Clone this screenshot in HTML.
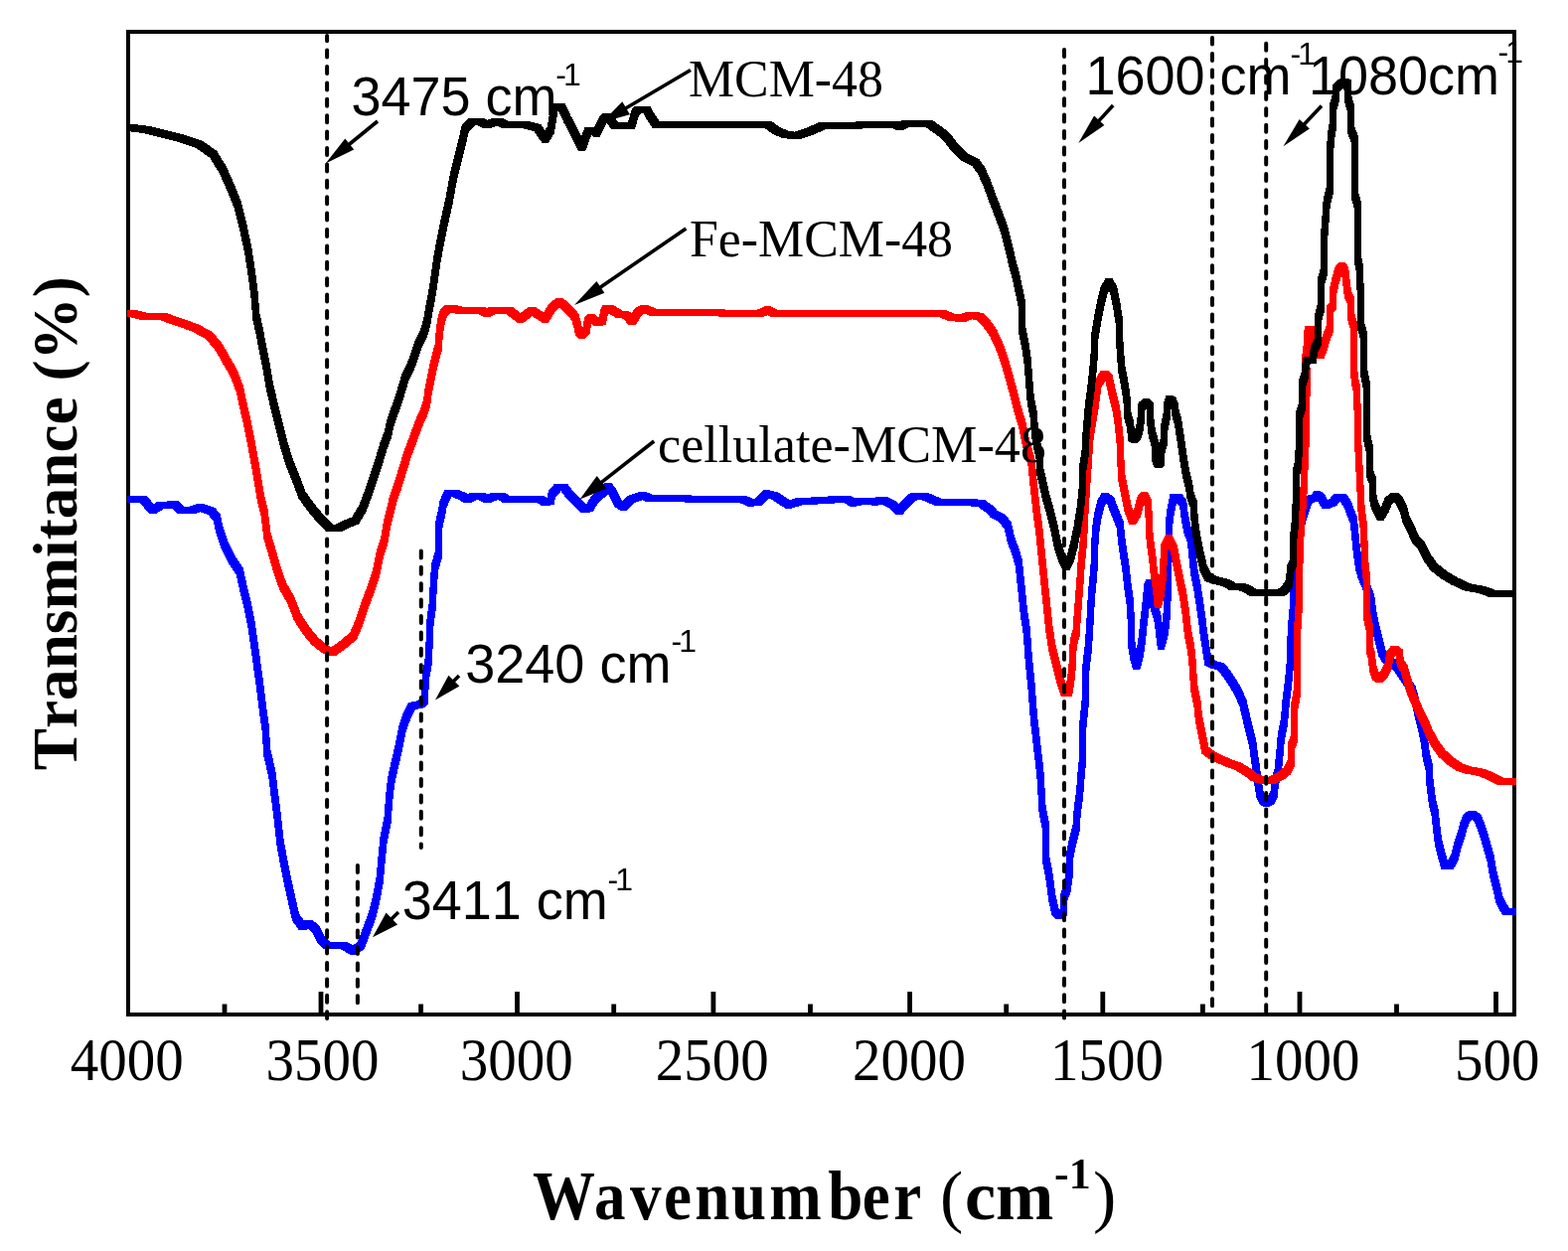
<!DOCTYPE html>
<html><head><meta charset="utf-8"><title>FTIR spectra</title>
<style>html,body{margin:0;padding:0;background:#fff;overflow:hidden;}svg{display:block;}text{font-kerning:none;font-feature-settings:'kern' 0;}</style>
</head><body>
<svg width="1578" height="1259" viewBox="0 0 1578 1259">
<rect x="0" y="0" width="1578" height="1259" fill="#fff"/>
<rect x="129" y="32" width="1395" height="989" fill="none" stroke="#000" stroke-width="4"/>
<path d="M128 498.5 147.5 498.5 147.5 505.5 128 505.5ZM140.5 498.5 147.5 498.5 157.1 510 157.1 517 150.1 517 140.5 505.5ZM150.1 510 157.7 505.2 164.7 505.2 164.7 512.2 157.1 517 150.1 517ZM157.7 505.2 173 504.2 180 504.2 180 511.2 164.7 512.2 157.7 512.2ZM173 504.2 180 504.2 185.7 510 185.7 517 178.7 517 173 511.2ZM178.7 510 197.1 510 197.1 517 178.7 517ZM190.1 510 197.7 507.1 204.7 507.1 204.7 514.1 197.1 517 190.1 517ZM197.7 507.1 204.7 507.1 216.2 510.9 216.2 517.9 209.2 517.9 197.7 514.1ZM209.2 510.9 216.2 510.9 221.9 517.5 221.9 524.5 214.9 524.5 209.2 517.9ZM214.9 517.5 221.9 517.5 223.8 527.9 223.8 534.9 216.8 534.9 214.9 524.5ZM216.8 527.9 223.8 527.9 229.5 545.1 229.5 552.1 222.5 552.1 216.8 534.9ZM222.5 545.1 229.5 545.1 237.1 560.3 237.1 567.3 230.1 567.3 222.5 552.1ZM230.1 560.3 237.1 560.3 244.8 571.8 244.8 578.8 237.8 578.8 230.1 567.3ZM237.8 571.8 244.8 571.8 248.5 588.9 248.5 595.9 241.5 595.9 237.8 578.8ZM241.5 588.9 248.5 588.9 252.4 604.2 252.4 611.2 245.4 611.2 241.5 595.9ZM245.4 604.2 252.4 604.2 256.2 623.2 256.2 630.2 249.2 630.2 245.4 611.2ZM249.2 623.2 256.2 623.2 259 642.3 259 649.3 252 649.3 249.2 630.2ZM252 642.3 259 642.3 261.9 663.2 261.9 670.2 254.9 670.2 252 649.3ZM254.9 663.2 261.9 663.2 264.8 684.2 264.8 691.2 257.8 691.2 254.9 670.2ZM257.8 684.2 264.8 684.2 267.6 707.1 267.6 714.1 260.6 714.1 257.8 691.2ZM260.6 707.1 267.6 707.1 270.5 728 270.5 735 263.5 735 260.6 714.1ZM263.5 728 270.5 728 272.4 754.7 272.4 761.7 265.4 761.7 263.5 735ZM265.4 754.7 272.4 754.7 277.2 774.5 277.2 781.5 270.2 781.5 265.4 761.7ZM270.2 774.5 277.2 774.5 280 797.5 280 804.5 273 804.5 270.2 781.5ZM273 797.5 280 797.5 282.9 820.4 282.9 827.4 275.9 827.4 273 804.5ZM275.9 820.4 282.9 820.4 285.7 845.1 285.7 852.1 278.7 852.1 275.9 827.4ZM278.7 845.1 285.7 845.1 289.5 866.1 289.5 873.1 282.5 873.1 278.7 852.1ZM282.5 866.1 289.5 866.1 293.4 885.2 293.4 892.2 286.4 892.2 282.5 873.1ZM286.4 885.2 293.4 885.2 297.2 902.3 297.2 909.3 290.2 909.3 286.4 892.2ZM290.2 902.3 297.2 902.3 301 919.5 301 926.5 294 926.5 290.2 909.3ZM294 919.5 301 919.5 307.7 929 307.7 936 300.7 936 294 926.5ZM300.7 929 307.3 926.1 314.3 926.1 314.3 933.1 307.7 936 300.7 936ZM307.3 926.1 314.3 926.1 321 930.9 321 937.9 314 937.9 307.3 933.1ZM314 930.9 321 930.9 326.7 942.3 326.7 949.3 319.7 949.3 314 937.9ZM319.7 942.3 326.7 942.3 332.5 948 332.5 955 325.5 955 319.7 949.3ZM325.5 948 349.5 948 349.5 955 325.5 955ZM342.5 948 349.5 948 359.1 953.8 359.1 960.8 352.1 960.8 342.5 955ZM352.1 953.8 359.7 948 366.7 948 366.7 955 359.1 960.8 352.1 960.8ZM359.7 948 365.5 932.8 372.5 932.8 372.5 939.8 366.7 955 359.7 955ZM365.5 932.8 371.2 917.5 378.2 917.5 378.2 924.5 372.5 939.8 365.5 939.8ZM371.2 917.5 375 902.3 382 902.3 382 909.3 378.2 924.5 371.2 924.5ZM375 902.3 378.8 881.3 385.8 881.3 385.8 888.3 382 909.3 375 909.3ZM378.8 881.3 380.7 860.4 387.7 860.4 387.7 867.4 385.8 888.3 378.8 888.3ZM380.7 860.4 382.6 841.3 389.6 841.3 389.6 848.3 387.7 867.4 380.7 867.4ZM382.6 841.3 386.5 822.3 393.5 822.3 393.5 829.3 389.6 848.3 382.6 848.3ZM386.5 822.3 388.3 799.4 395.3 799.4 395.3 806.4 393.5 829.3 386.5 829.3ZM388.3 799.4 390.2 782.2 397.2 782.2 397.2 789.2 395.3 806.4 388.3 806.4ZM390.2 782.2 394 765.1 401 765.1 401 772.1 397.2 789.2 390.2 789.2ZM394 765.1 397.9 748.5 404.9 748.5 404.9 755.5 401 772.1 394 772.1ZM397.9 748.5 401.5 730 408.5 730 408.5 737 404.9 755.5 397.9 755.5ZM401.5 730 405.5 718.5 412.5 718.5 412.5 725.5 408.5 737 401.5 737ZM405.5 718.5 411.2 707.1 418.2 707.1 418.2 714.1 412.5 725.5 405.5 725.5ZM411.2 707.1 420.7 705.2 427.7 705.2 427.7 712.2 418.2 714.1 411.2 714.1ZM420.7 705.2 423.9 701.7 430.9 701.7 430.9 708.7 427.7 712.2 420.7 712.2ZM423.9 701.7 424.9 677.3 431.9 677.3 431.9 684.3 430.9 708.7 423.9 708.7ZM424.9 677.3 427.9 661.1 434.9 661.1 434.9 668.1 431.9 684.3 424.9 684.3ZM427.9 661.1 428.9 636.5 435.9 636.5 435.9 643.5 434.9 668.1 427.9 668.1ZM428.9 636.5 429.5 622.6 436.5 622.6 436.5 629.6 435.9 643.5 428.9 643.5ZM429.5 622.6 432.1 603.6 439.1 603.6 439.1 610.6 436.5 629.6 429.5 629.6ZM432.1 603.6 432.7 584.5 439.7 584.5 439.7 591.5 439.1 610.6 432.1 610.6ZM432.7 584.5 434.6 565.5 441.6 565.5 441.6 572.5 439.7 591.5 432.7 591.5ZM434.6 565.5 437.8 555.3 444.8 555.3 444.8 562.3 441.6 572.5 434.6 572.5ZM437.8 527.3 444.8 527.3 444.8 562.3 437.8 562.3ZM437.8 527.3 441 512.5 448 512.5 448 519.5 444.8 534.3 437.8 534.3ZM441 512.5 442.5 503.9 449.5 503.9 449.5 510.9 448 519.5 441 519.5ZM442.5 503.9 447.1 493.5 454.1 493.5 454.1 500.5 449.5 510.9 442.5 510.9ZM447.1 493.5 454.8 493 461.8 493 461.8 500 454.1 500.5 447.1 500.5ZM454.8 493 461.8 493 469.4 496.3 469.4 503.3 462.4 503.3 454.8 500ZM462.4 496.3 469.4 496.3 473.9 499 473.9 506 466.9 506 462.4 503.3ZM466.9 499 473 496 480 496 480 503 473.9 506 466.9 506ZM473 496 487.6 496 487.6 503 473 503ZM480.6 496 487.6 496 493.7 499 493.7 506 486.7 506 480.6 503ZM486.7 499 494.3 496 501.3 496 501.3 503 493.7 506 486.7 506ZM494.3 496 508.9 496 508.9 503 494.3 503ZM501.9 496 508.9 496 511.9 498.5 511.9 505.5 504.9 505.5 501.9 503ZM504.9 498.5 546.9 498.5 546.9 505.5 504.9 505.5ZM539.9 498.5 546.9 498.5 551.5 502 551.5 509 544.5 509 539.9 505.5ZM544.5 502 550.5 500.8 557.5 500.8 557.5 507.8 551.5 509 544.5 509ZM550.5 500.8 552.1 493.5 559.1 493.5 559.1 500.5 557.5 507.8 550.5 507.8ZM552.1 493.5 558.2 486.7 565.2 486.7 565.2 493.7 559.1 500.5 552.1 500.5ZM558.2 486.7 565.2 486.7 571.3 487.1 571.3 494.1 564.3 494.1 558.2 493.7ZM564.3 487.1 571.3 487.1 575.8 493.2 575.8 500.2 568.8 500.2 564.3 494.1ZM568.8 493.2 575.8 493.2 584.9 502.4 584.9 509.4 577.9 509.4 568.8 500.2ZM577.9 502.4 584.9 502.4 591 509 591 516 584 516 577.9 509.4ZM584 509 590.1 508 597.1 508 597.1 515 591 516 584 516ZM590.1 508 594.7 499.3 601.7 499.3 601.7 506.3 597.1 515 590.1 515ZM594.7 499.3 603.8 491.7 610.8 491.7 610.8 498.7 601.7 506.3 594.7 506.3ZM603.8 491.7 608.4 486 615.4 486 615.4 493 610.8 498.7 603.8 498.7ZM608.4 486 615.4 486 619.9 491.7 619.9 498.7 612.9 498.7 608.4 493ZM612.9 491.7 619.9 491.7 626 503.5 626 510.5 619 510.5 612.9 498.7ZM619 503.5 626 503.5 630.6 506.5 630.6 513.5 623.6 513.5 619 510.5ZM623.6 506.5 631.2 499.3 638.2 499.3 638.2 506.3 630.6 513.5 623.6 513.5ZM631.2 499.3 643.3 495 650.3 495 650.3 502 638.2 506.3 631.2 506.3ZM643.3 495 650.3 495 656.4 497.8 656.4 504.8 649.4 504.8 643.3 502ZM649.4 497.8 656.4 497.8 752.5 499.5 752.5 506.5 745.5 506.5 649.4 504.8ZM745.5 499.5 752.5 499.5 758.5 502.5 758.5 509.5 751.5 509.5 745.5 506.5ZM751.5 502.5 759.6 501.5 766.6 501.5 766.6 508.5 758.5 509.5 751.5 509.5ZM759.6 501.5 767.8 493.4 774.8 493.4 774.8 500.4 766.6 508.5 759.6 508.5ZM767.8 493.4 774.8 493.4 782.9 495.4 782.9 502.4 775.9 502.4 767.8 500.4ZM775.9 495.4 782.9 495.4 797.1 504.5 797.1 511.5 790.1 511.5 775.9 502.4ZM790.1 504.5 800.2 501.5 807.2 501.5 807.2 508.5 797.1 511.5 790.1 511.5ZM800.2 501.5 848.9 498.5 855.9 498.5 855.9 505.5 807.2 508.5 800.2 508.5ZM848.9 498.5 855.9 498.5 862 502.5 862 509.5 855 509.5 848.9 505.5ZM855 502.5 865.1 500.5 872.1 500.5 872.1 507.5 862 509.5 855 509.5ZM865.1 500.5 872.1 500.5 884.3 501.5 884.3 508.5 877.3 508.5 865.1 507.5ZM877.3 501.5 885.4 499.5 892.4 499.5 892.4 506.5 884.3 508.5 877.3 508.5ZM885.4 499.5 892.4 499.5 900.5 503.5 900.5 510.5 893.5 510.5 885.4 506.5ZM893.5 503.5 900.5 503.5 908.6 510.6 908.6 517.6 901.6 517.6 893.5 510.5ZM901.6 510.6 909.7 501.5 916.7 501.5 916.7 508.5 908.6 517.6 901.6 517.6ZM909.7 501.5 915.8 496.4 922.8 496.4 922.8 503.4 916.7 508.5 909.7 508.5ZM915.8 496.4 935 496.4 935 503.4 915.8 503.4ZM928 496.4 935 496.4 947.1 501.5 947.1 508.5 940.1 508.5 928 503.4ZM940.1 501.5 975.5 501.5 975.5 508.5 940.1 508.5ZM968.5 501.5 975.5 501.5 991.8 503.5 991.8 510.5 984.8 510.5 968.5 508.5ZM984.8 503.5 991.8 503.5 999.9 509.5 999.9 516.5 992.9 516.5 984.8 510.5ZM992.9 509.5 999.9 509.5 1003.5 513.5 1003.5 520.5 996.5 520.5 992.9 516.5ZM996.5 513.5 1003.5 513.5 1011.4 517.5 1011.4 524.5 1004.4 524.5 996.5 520.5ZM1004.4 517.5 1011.4 517.5 1017.8 525.5 1017.8 532.5 1010.8 532.5 1004.4 524.5ZM1010.8 525.5 1017.8 525.5 1021 539.7 1021 546.7 1014 546.7 1010.8 532.5ZM1014 539.7 1021 539.7 1025.7 552.5 1025.7 559.5 1018.7 559.5 1014 546.7ZM1018.7 552.5 1025.7 552.5 1028.9 563.5 1028.9 570.5 1021.9 570.5 1018.7 559.5ZM1021.9 563.5 1028.9 563.5 1030.5 579.5 1030.5 586.5 1023.5 586.5 1021.9 570.5ZM1023.5 579.5 1030.5 579.5 1032.1 595.3 1032.1 602.3 1025.1 602.3 1023.5 586.5ZM1025.1 595.3 1032.1 595.3 1033.7 611.2 1033.7 618.2 1026.7 618.2 1025.1 602.3ZM1026.7 611.2 1033.7 611.2 1036.9 632.4 1036.9 639.4 1029.9 639.4 1026.7 618.2ZM1029.9 632.4 1036.9 632.4 1038.5 656.2 1038.5 663.2 1031.5 663.2 1029.9 639.4ZM1031.5 656.2 1038.5 656.2 1041.6 688 1041.6 695 1034.6 695 1031.5 663.2ZM1034.6 688 1041.6 688 1044 719.7 1044 726.7 1037 726.7 1034.6 695ZM1037 719.7 1044 719.7 1047.2 746.7 1047.2 753.7 1040.2 753.7 1037 726.7ZM1040.2 746.7 1047.2 746.7 1050.4 775.3 1050.4 782.3 1043.4 782.3 1040.2 753.7ZM1043.4 775.3 1050.4 775.3 1052.7 812.4 1052.7 819.4 1045.7 819.4 1043.4 782.3ZM1045.7 812.4 1052.7 812.4 1055.9 828.3 1055.9 835.3 1048.9 835.3 1045.7 819.4ZM1048.9 828.3 1055.9 828.3 1055.9 867 1048.9 867ZM1048.9 860 1055.9 860 1059.1 875.9 1059.1 882.9 1052.1 882.9 1048.9 867ZM1052.1 875.9 1059.1 875.9 1062.3 899.7 1062.3 906.7 1055.3 906.7 1052.1 882.9ZM1055.3 899.7 1062.3 899.7 1065.5 914 1065.5 921 1058.5 921 1055.3 906.7ZM1058.5 914 1065.5 914 1069.4 918 1069.4 925 1062.4 925 1058.5 921ZM1062.4 918 1067.2 914 1074.2 914 1074.2 921 1069.4 925 1062.4 925ZM1067.2 899.7 1074.2 899.7 1074.2 921 1067.2 921ZM1067.2 899.7 1070.4 891.8 1077.4 891.8 1077.4 898.8 1074.2 906.7 1067.2 906.7ZM1070.4 891.8 1072.7 875.9 1079.7 875.9 1079.7 882.9 1077.4 898.8 1070.4 898.8ZM1072.7 860 1079.7 860 1079.7 882.9 1072.7 882.9ZM1072.7 860 1075.9 844.1 1082.9 844.1 1082.9 851.1 1079.7 867 1072.7 867ZM1075.9 844.1 1079.9 828.3 1086.9 828.3 1086.9 835.3 1082.9 851.1 1075.9 851.1ZM1079.9 828.3 1080.7 812.4 1087.7 812.4 1087.7 819.4 1086.9 835.3 1079.9 835.3ZM1080.7 812.4 1083.1 796.5 1090.1 796.5 1090.1 803.5 1087.7 819.4 1080.7 819.4ZM1083.1 796.5 1083.9 783.3 1090.9 783.3 1090.9 790.3 1090.1 803.5 1083.1 803.5ZM1083.9 783.3 1086.2 759.5 1093.2 759.5 1093.2 766.5 1090.9 790.3 1083.9 790.3ZM1086.2 727.7 1093.2 727.7 1093.2 766.5 1086.2 766.5ZM1086.2 727.7 1089.4 695.9 1096.4 695.9 1096.4 702.9 1093.2 734.7 1086.2 734.7ZM1089.4 668.9 1096.4 668.9 1096.4 702.9 1089.4 702.9ZM1089.4 668.9 1091.8 648.3 1098.8 648.3 1098.8 655.3 1096.4 675.9 1089.4 675.9ZM1091.8 648.3 1093.4 624.5 1100.4 624.5 1100.4 631.5 1098.8 655.3 1091.8 655.3ZM1093.4 624.5 1095 595.3 1102 595.3 1102 602.3 1100.4 631.5 1093.4 631.5ZM1095 595.3 1097.4 571.5 1104.4 571.5 1104.4 578.5 1102 602.3 1095 602.3ZM1097.4 571.5 1098.2 547.7 1105.2 547.7 1105.2 554.7 1104.4 578.5 1097.4 578.5ZM1098.2 547.7 1098.9 531.8 1105.9 531.8 1105.9 538.8 1105.2 554.7 1098.2 554.7ZM1098.9 531.8 1101.3 515.9 1108.3 515.9 1108.3 522.9 1105.9 538.8 1098.9 538.8ZM1101.3 515.9 1104.5 503.2 1111.5 503.2 1111.5 510.2 1108.3 522.9 1101.3 522.9ZM1104.5 503.2 1108.5 496.1 1115.5 496.1 1115.5 503.1 1111.5 510.2 1104.5 510.2ZM1108.5 496.1 1115.5 496.1 1121 500 1121 507 1114 507 1108.5 503.1ZM1114 500 1121 500 1125.8 512.7 1125.8 519.7 1118.8 519.7 1114 507ZM1118.8 512.7 1125.8 512.7 1130.5 523.9 1130.5 530.9 1123.5 530.9 1118.8 519.7ZM1123.5 523.9 1130.5 523.9 1132.2 539.7 1132.2 546.7 1125.2 546.7 1123.5 530.9ZM1125.2 539.7 1132.2 539.7 1134.5 555.6 1134.5 562.6 1127.5 562.6 1125.2 546.7ZM1127.5 555.6 1134.5 555.6 1136.9 571.5 1136.9 578.5 1129.9 578.5 1127.5 562.6ZM1129.9 571.5 1136.9 571.5 1138.5 587.4 1138.5 594.4 1131.5 594.4 1129.9 578.5ZM1131.5 587.4 1138.5 587.4 1140.9 603.3 1140.9 610.3 1133.9 610.3 1131.5 594.4ZM1133.9 603.3 1140.9 603.3 1141.7 619.2 1141.7 626.2 1134.7 626.2 1133.9 610.3ZM1134.7 619.2 1141.7 619.2 1141.7 647.3 1134.7 647.3ZM1134.7 640.3 1141.7 640.3 1144.1 656.2 1144.1 663.2 1137.1 663.2 1134.7 647.3ZM1137.1 656.2 1144.1 656.2 1147.2 667.3 1147.2 674.3 1140.2 674.3 1137.1 663.2ZM1140.2 667.3 1143.4 656.2 1150.4 656.2 1150.4 663.2 1147.2 674.3 1140.2 674.3ZM1143.4 656.2 1145.8 640.3 1152.8 640.3 1152.8 647.3 1150.4 663.2 1143.4 663.2ZM1145.8 640.3 1147.4 624.5 1154.4 624.5 1154.4 631.5 1152.8 647.3 1145.8 647.3ZM1147.4 624.5 1149.8 603.3 1156.8 603.3 1156.8 610.3 1154.4 631.5 1147.4 631.5ZM1149.8 603.3 1151.4 587.4 1158.4 587.4 1158.4 594.4 1156.8 610.3 1149.8 610.3ZM1151.4 587.4 1153.7 582.5 1160.7 582.5 1160.7 589.5 1158.4 594.4 1151.4 594.4ZM1153.7 582.5 1160.7 582.5 1163.9 603.3 1163.9 610.3 1156.9 610.3 1153.7 589.5ZM1156.9 603.3 1163.9 603.3 1168.7 619.2 1168.7 626.2 1161.7 626.2 1156.9 610.3ZM1161.7 619.2 1168.7 619.2 1171.9 646.5 1171.9 653.5 1164.9 653.5 1161.7 626.2ZM1164.9 646.5 1168.8 632.4 1175.8 632.4 1175.8 639.4 1171.9 653.5 1164.9 653.5ZM1168.8 632.4 1171.2 611.2 1178.2 611.2 1178.2 618.2 1175.8 639.4 1168.8 639.4ZM1171.2 611.2 1172.8 547.7 1179.8 547.7 1179.8 554.7 1178.2 618.2 1171.2 618.2ZM1172.8 547.7 1173.6 515.9 1180.6 515.9 1180.6 522.9 1179.8 554.7 1172.8 554.7ZM1173.6 515.9 1177.6 496.9 1184.6 496.9 1184.6 503.9 1180.6 522.9 1173.6 522.9ZM1177.6 496.9 1189.3 496.9 1189.3 503.9 1177.6 503.9ZM1182.3 496.9 1189.3 496.9 1194.1 503.2 1194.1 510.2 1187.1 510.2 1182.3 503.9ZM1187.1 503.2 1194.1 503.2 1195.7 515.9 1195.7 522.9 1188.7 522.9 1187.1 510.2ZM1188.7 515.9 1195.7 515.9 1198.1 528.6 1198.1 535.6 1191.1 535.6 1188.7 522.9ZM1191.1 528.6 1198.1 528.6 1202 539.7 1202 546.7 1195 546.7 1191.1 535.6ZM1195 539.7 1202 539.7 1203.6 555.6 1203.6 562.6 1196.6 562.6 1195 546.7ZM1196.6 555.6 1203.6 555.6 1205.2 571.5 1205.2 578.5 1198.2 578.5 1196.6 562.6ZM1198.2 571.5 1205.2 571.5 1208.4 587.4 1208.4 594.4 1201.4 594.4 1198.2 578.5ZM1201.4 587.4 1208.4 587.4 1210.8 603.3 1210.8 610.3 1203.8 610.3 1201.4 594.4ZM1203.8 603.3 1210.8 603.3 1213.2 619.2 1213.2 626.2 1206.2 626.2 1203.8 610.3ZM1206.2 619.2 1213.2 619.2 1214.7 632.4 1214.7 639.4 1207.7 639.4 1206.2 626.2ZM1207.7 632.4 1214.7 632.4 1217.1 648.3 1217.1 655.3 1210.1 655.3 1207.7 639.4ZM1210.1 648.3 1217.1 648.3 1219.5 662.5 1219.5 669.5 1212.5 669.5 1210.1 655.3ZM1212.5 662.5 1219.5 662.5 1225.8 665.7 1225.8 672.7 1218.8 672.7 1212.5 669.5ZM1218.8 665.7 1225.8 665.7 1232.2 667.3 1232.2 674.3 1225.2 674.3 1218.8 672.7ZM1225.2 667.3 1232.2 667.3 1238.5 675.3 1238.5 682.3 1231.5 682.3 1225.2 674.3ZM1231.5 675.3 1238.5 675.3 1243.5 682.5 1243.5 689.5 1236.5 689.5 1231.5 682.3ZM1236.5 682.5 1243.5 682.5 1249.9 693.4 1249.9 700.4 1242.9 700.4 1236.5 689.5ZM1242.9 693.4 1249.9 693.4 1254.6 704.5 1254.6 711.5 1247.6 711.5 1242.9 700.4ZM1247.6 704.5 1254.6 704.5 1257.8 718.8 1257.8 725.8 1250.8 725.8 1247.6 711.5ZM1250.8 718.8 1257.8 718.8 1261 731.5 1261 738.5 1254 738.5 1250.8 725.8ZM1254 731.5 1261 731.5 1264.1 744.2 1264.1 751.2 1257.1 751.2 1254 738.5ZM1257.1 744.2 1264.1 744.2 1265.7 756.5 1265.7 763.5 1258.7 763.5 1257.1 751.2ZM1258.7 756.5 1265.7 756.5 1267.4 767.5 1267.4 774.5 1260.4 774.5 1258.7 763.5ZM1260.4 767.5 1267.4 767.5 1269.6 784.3 1269.6 791.3 1262.6 791.3 1260.4 774.5ZM1262.6 784.3 1269.6 784.3 1271.3 795.4 1271.3 802.4 1264.3 802.4 1262.6 791.3ZM1264.3 795.4 1271.3 795.4 1274.6 802.6 1274.6 809.6 1267.6 809.6 1264.3 802.4ZM1267.6 802.6 1274.6 802.6 1277.9 804.5 1277.9 811.5 1270.9 811.5 1267.6 809.6ZM1270.9 804.5 1274.8 803 1281.8 803 1281.8 810 1277.9 811.5 1270.9 811.5ZM1274.8 803 1278.7 795.4 1285.7 795.4 1285.7 802.4 1281.8 810 1274.8 810ZM1278.7 795.4 1279.8 784.3 1286.8 784.3 1286.8 791.3 1285.7 802.4 1278.7 802.4ZM1279.8 784.3 1282.6 773.2 1289.6 773.2 1289.6 780.2 1286.8 791.3 1279.8 791.3ZM1282.6 773.2 1284.1 758.5 1291.1 758.5 1291.1 765.5 1289.6 780.2 1282.6 780.2ZM1284.1 758.5 1285.7 739.5 1292.7 739.5 1292.7 746.5 1291.1 765.5 1284.1 765.5ZM1285.7 739.5 1288.9 723.5 1295.9 723.5 1295.9 730.5 1292.7 746.5 1285.7 746.5ZM1288.9 723.5 1290.5 704.5 1297.5 704.5 1297.5 711.5 1295.9 730.5 1288.9 730.5ZM1290.5 704.5 1292.9 685.5 1299.9 685.5 1299.9 692.5 1297.5 711.5 1290.5 711.5ZM1292.9 685.5 1294.5 668 1301.5 668 1301.5 675 1299.9 692.5 1292.9 692.5ZM1294.5 668 1295.3 644.1 1302.3 644.1 1302.3 651.1 1301.5 675 1294.5 675ZM1295.3 644.1 1296.1 628.3 1303.1 628.3 1303.1 635.3 1302.3 651.1 1295.3 651.1ZM1296.1 628.3 1297.6 612.4 1304.6 612.4 1304.6 619.4 1303.1 635.3 1296.1 635.3ZM1297.6 601.5 1304.6 601.5 1304.6 619.4 1297.6 619.4ZM1297.6 601.5 1299.5 586.5 1306.5 586.5 1306.5 593.5 1304.6 608.5 1297.6 608.5ZM1299.5 586.5 1302.5 571.5 1309.5 571.5 1309.5 578.5 1306.5 593.5 1299.5 593.5ZM1302.5 571.5 1304 556.5 1311 556.5 1311 563.5 1309.5 578.5 1302.5 578.5ZM1304 556.5 1304.8 536.5 1311.8 536.5 1311.8 543.5 1311 563.5 1304 563.5ZM1304.8 536.5 1306.8 518.5 1313.8 518.5 1313.8 525.5 1311.8 543.5 1304.8 543.5ZM1306.8 518.5 1310 509.5 1317 509.5 1317 516.5 1313.8 525.5 1306.8 525.5ZM1310 509.5 1312.1 503.2 1319.1 503.2 1319.1 510.2 1317 516.5 1310 516.5ZM1312.1 503.2 1314.3 498.7 1321.3 498.7 1321.3 505.7 1319.1 510.2 1312.1 510.2ZM1314.3 498.7 1319.8 498.2 1326.8 498.2 1326.8 505.2 1321.3 505.7 1314.3 505.7ZM1319.8 498.2 1322.1 494.3 1329.1 494.3 1329.1 501.3 1326.8 505.2 1319.8 505.2ZM1322.1 494.3 1329.1 494.3 1332.4 496.5 1332.4 503.5 1325.4 503.5 1322.1 501.3ZM1325.4 496.5 1332.4 496.5 1337.9 505.4 1337.9 512.4 1330.9 512.4 1325.4 503.5ZM1330.9 505.4 1334.3 503.2 1341.3 503.2 1341.3 510.2 1337.9 512.4 1330.9 512.4ZM1334.3 503.2 1338.2 502.3 1345.2 502.3 1345.2 509.3 1341.3 510.2 1334.3 510.2ZM1338.2 502.3 1342.1 496.7 1349.1 496.7 1349.1 503.7 1345.2 509.3 1338.2 509.3ZM1342.1 496.7 1354.7 496.7 1354.7 503.7 1342.1 503.7ZM1347.7 496.7 1354.7 496.7 1359.5 503.9 1359.5 510.9 1352.5 510.9 1347.7 503.7ZM1352.5 503.9 1359.5 503.9 1362.6 511.8 1362.6 518.8 1355.6 518.8 1352.5 510.9ZM1355.6 511.8 1362.6 511.8 1365.8 519.7 1365.8 526.7 1358.8 526.7 1355.6 518.8ZM1358.8 519.7 1365.8 519.7 1367.4 535.6 1367.4 542.6 1360.4 542.6 1358.8 526.7ZM1360.4 535.6 1367.4 535.6 1369 551.5 1369 558.5 1362 558.5 1360.4 542.6ZM1362 551.5 1369 551.5 1371.4 567.4 1371.4 574.4 1364.4 574.4 1362 558.5ZM1364.4 567.4 1371.4 567.4 1373.7 575.3 1373.7 582.3 1366.7 582.3 1364.4 574.4ZM1366.7 575.3 1373.7 575.3 1378.5 586.5 1378.5 593.5 1371.5 593.5 1366.7 582.3ZM1371.5 586.5 1378.5 586.5 1383.3 599.2 1383.3 606.2 1376.3 606.2 1371.5 593.5ZM1376.3 599.2 1383.3 599.2 1384.9 612.4 1384.9 619.4 1377.9 619.4 1376.3 606.2ZM1377.9 612.4 1384.9 612.4 1388 628.3 1388 635.3 1381 635.3 1377.9 619.4ZM1381 628.3 1388 628.3 1391.2 641 1391.2 648 1384.2 648 1381 635.3ZM1384.2 641 1391.2 641 1394.4 653.7 1394.4 660.7 1387.4 660.7 1384.2 648ZM1387.4 653.7 1394.4 653.7 1398.4 660 1398.4 667 1391.4 667 1387.4 660.7ZM1391.4 660 1398.4 660 1407.1 664.8 1407.1 671.8 1400.1 671.8 1391.4 667ZM1400.1 664.8 1407.1 664.8 1411.9 671.1 1411.9 678.1 1404.9 678.1 1400.1 671.8ZM1404.9 671.1 1411.9 671.1 1418.2 680.7 1418.2 687.7 1411.2 687.7 1404.9 678.1ZM1411.2 680.7 1418.2 680.7 1424.5 690.2 1424.5 697.2 1417.5 697.2 1411.2 687.7ZM1417.5 690.2 1424.5 690.2 1427.7 701.3 1427.7 708.3 1420.7 708.3 1417.5 697.2ZM1420.7 701.3 1427.7 701.3 1430.9 715.6 1430.9 722.6 1423.9 722.6 1420.7 708.3ZM1423.9 715.6 1430.9 715.6 1434.1 728.3 1434.1 735.3 1427.1 735.3 1423.9 722.6ZM1427.1 728.3 1434.1 728.3 1436.5 739.5 1436.5 746.5 1429.5 746.5 1427.1 735.3ZM1429.5 739.5 1436.5 739.5 1438.5 755.5 1438.5 762.5 1431.5 762.5 1429.5 746.5ZM1431.5 755.5 1438.5 755.5 1441.7 768.3 1441.7 775.3 1434.7 775.3 1431.5 762.5ZM1434.7 768.3 1441.7 768.3 1442.5 784.1 1442.5 791.1 1435.5 791.1 1434.7 775.3ZM1435.5 784.1 1442.5 784.1 1444.9 803.2 1444.9 810.2 1437.9 810.2 1435.5 791.1ZM1437.9 803.2 1444.9 803.2 1448 815.9 1448 822.9 1441 822.9 1437.9 810.2ZM1441 815.9 1448 815.9 1448.8 827 1448.8 834 1441.8 834 1441 822.9ZM1441.8 827 1448.8 827 1451.2 844.5 1451.2 851.5 1444.2 851.5 1441.8 834ZM1444.2 844.5 1451.2 844.5 1454.4 857.2 1454.4 864.2 1447.4 864.2 1444.2 851.5ZM1447.4 857.2 1454.4 857.2 1457.5 868.3 1457.5 875.3 1450.5 875.3 1447.4 864.2ZM1450.5 868.3 1462.3 868.3 1462.3 875.3 1450.5 875.3ZM1455.3 868.3 1460.1 860.4 1467.1 860.4 1467.1 867.4 1462.3 875.3 1455.3 875.3ZM1460.1 860.4 1463.3 847.7 1470.3 847.7 1470.3 854.7 1467.1 867.4 1460.1 867.4ZM1463.3 847.7 1466.5 838.2 1473.5 838.2 1473.5 845.2 1470.3 854.7 1463.3 854.7ZM1466.5 838.2 1469.6 827 1476.6 827 1476.6 834 1473.5 845.2 1466.5 845.2ZM1469.6 827 1472.8 819.1 1479.8 819.1 1479.8 826.1 1476.6 834 1469.6 834ZM1472.8 819.1 1477.6 815.9 1484.6 815.9 1484.6 822.9 1479.8 826.1 1472.8 826.1ZM1477.6 815.9 1484.6 815.9 1490.1 819.1 1490.1 826.1 1483.1 826.1 1477.6 822.9ZM1483.1 819.1 1490.1 819.1 1494.1 828.6 1494.1 835.6 1487.1 835.6 1483.1 826.1ZM1487.1 828.6 1494.1 828.6 1497.3 838.2 1497.3 845.2 1490.3 845.2 1487.1 835.6ZM1490.3 838.2 1497.3 838.2 1500.4 849.3 1500.4 856.3 1493.4 856.3 1490.3 845.2ZM1493.4 849.3 1500.4 849.3 1503.6 860.4 1503.6 867.4 1496.6 867.4 1493.4 856.3ZM1496.6 860.4 1503.6 860.4 1506 874.7 1506 881.7 1499 881.7 1496.6 867.4ZM1499 874.7 1506 874.7 1509.2 887.4 1509.2 894.4 1502.2 894.4 1499 881.7ZM1502.2 887.4 1509.2 887.4 1512.4 901.7 1512.4 908.7 1505.4 908.7 1502.2 894.4ZM1505.4 901.7 1512.4 901.7 1516.3 909.6 1516.3 916.6 1509.3 916.6 1505.4 908.7ZM1509.3 909.6 1516.3 909.6 1519.5 914.4 1519.5 921.4 1512.5 921.4 1509.3 916.6ZM1512.5 914.4 1526 914.4 1526 921.4 1512.5 921.4Z" fill="#0000ff" fill-rule="nonzero" shape-rendering="crispEdges"/>
<path d="M128 311.7 135 311.7 147.5 314.5 147.5 321.5 140.5 321.5 128 318.7ZM140.5 314.5 166.5 314.5 166.5 321.5 140.5 321.5ZM159.5 314.5 166.5 314.5 174.2 317.5 174.2 324.5 167.2 324.5 159.5 321.5ZM167.2 317.5 174.2 317.5 185.7 321.3 185.7 328.3 178.7 328.3 167.2 324.5ZM178.7 321.3 185.7 321.3 200.9 327 200.9 334 193.9 334 178.7 328.3ZM193.9 327 200.9 327 214.3 334.5 214.3 341.5 207.3 341.5 193.9 334ZM207.3 334.5 214.3 334.5 223.8 346 223.8 353 216.8 353 207.3 341.5ZM216.8 346 223.8 346 231.5 359.5 231.5 366.5 224.5 366.5 216.8 353ZM224.5 359.5 231.5 359.5 239 372.5 239 379.5 232 379.5 224.5 366.5ZM232 372.5 239 372.5 244.8 388 244.8 395 237.8 395 232 379.5ZM237.8 388 244.8 388 248.5 405.1 248.5 412.1 241.5 412.1 237.8 395ZM241.5 405.1 248.5 405.1 252.4 422.3 252.4 429.3 245.4 429.3 241.5 412.1ZM245.4 422.3 252.4 422.3 256.2 441.3 256.2 448.3 249.2 448.3 245.4 429.3ZM249.2 441.3 256.2 441.3 260 462.3 260 469.3 253 469.3 249.2 448.3ZM253 462.3 260 462.3 262.9 479.5 262.9 486.5 255.9 486.5 253 469.3ZM255.9 479.5 262.9 479.5 265.7 496.5 265.7 503.5 258.7 503.5 255.9 486.5ZM258.7 496.5 265.7 496.5 269.5 511.9 269.5 518.9 262.5 518.9 258.7 503.5ZM262.5 511.9 269.5 511.9 272.4 535.5 272.4 542.5 265.4 542.5 262.5 518.9ZM265.4 535.5 272.4 535.5 278.1 554.5 278.1 561.5 271.1 561.5 265.4 542.5ZM271.1 554.5 278.1 554.5 282.9 571.8 282.9 578.8 275.9 578.8 271.1 561.5ZM275.9 571.8 282.9 571.8 288.5 587 288.5 594 281.5 594 275.9 578.8ZM281.5 587 288.5 587 296.2 600.4 296.2 607.4 289.2 607.4 281.5 594ZM289.2 600.4 296.2 600.4 302.9 617.5 302.9 624.5 295.9 624.5 289.2 607.4ZM295.9 617.5 302.9 617.5 311.5 630.9 311.5 637.9 304.5 637.9 295.9 624.5ZM304.5 630.9 311.5 630.9 321 642.3 321 649.3 314 649.3 304.5 637.9ZM314 642.3 321 642.3 330.5 649.9 330.5 656.9 323.5 656.9 314 649.3ZM323.5 649.9 330.5 649.9 338.1 652.8 338.1 659.8 331.1 659.8 323.5 656.9ZM331.1 652.8 340.7 646.1 347.7 646.1 347.7 653.1 338.1 659.8 331.1 659.8ZM340.7 646.1 352.1 636.5 359.1 636.5 359.1 643.5 347.7 653.1 340.7 653.1ZM352.1 636.5 357.8 623.2 364.8 623.2 364.8 630.2 359.1 643.5 352.1 643.5ZM357.8 623.2 363.5 606.1 370.5 606.1 370.5 613.1 364.8 630.2 357.8 630.2ZM363.5 606.1 369.3 590.8 376.3 590.8 376.3 597.8 370.5 613.1 363.5 613.1ZM369.3 590.8 375 573.7 382 573.7 382 580.7 376.3 597.8 369.3 597.8ZM375 573.7 378.8 554.5 385.8 554.5 385.8 561.5 382 580.7 375 580.7ZM378.8 554.5 383.5 539.4 390.5 539.4 390.5 546.4 385.8 561.5 378.8 561.5ZM383.5 539.4 386.5 521.5 393.5 521.5 393.5 528.5 390.5 546.4 383.5 546.4ZM386.5 521.5 391.5 501.5 398.5 501.5 398.5 508.5 393.5 528.5 386.5 528.5ZM391.5 501.5 396.5 486.5 403.5 486.5 403.5 493.5 398.5 508.5 391.5 508.5ZM396.5 486.5 400.5 473.5 407.5 473.5 407.5 480.5 403.5 493.5 396.5 493.5ZM400.5 473.5 404.5 460.5 411.5 460.5 411.5 467.5 407.5 480.5 400.5 480.5ZM404.5 460.5 408.5 448.5 415.5 448.5 415.5 455.5 411.5 467.5 404.5 467.5ZM408.5 448.5 413 436.5 420 436.5 420 443.5 415.5 455.5 408.5 455.5ZM413 436.5 416.7 426.5 423.7 426.5 423.7 433.5 420 443.5 413 443.5ZM416.7 426.5 419.9 418.5 426.9 418.5 426.9 425.5 423.7 433.5 416.7 433.5ZM419.9 418.5 423 411.5 430 411.5 430 418.5 426.9 425.5 419.9 425.5ZM423 411.5 426.2 401.5 433.2 401.5 433.2 408.5 430 418.5 423 418.5ZM426.2 401.5 427.5 390.9 434.5 390.9 434.5 397.9 433.2 408.5 426.2 408.5ZM427.5 390.9 430 378.2 437 378.2 437 385.2 434.5 397.9 427.5 397.9ZM430 378.2 432.6 365.5 439.6 365.5 439.6 372.5 437 385.2 430 385.2ZM432.6 365.5 435.1 355.3 442.1 355.3 442.1 362.3 439.6 372.5 432.6 372.5ZM435.1 355.3 437.7 346.4 444.7 346.4 444.7 353.4 442.1 362.3 435.1 362.3ZM437.7 346.4 438.9 329.9 445.9 329.9 445.9 336.9 444.7 353.4 437.7 353.4ZM438.9 329.9 440.2 321 447.2 321 447.2 328 445.9 336.9 438.9 336.9ZM440.2 321 442.7 312.1 449.7 312.1 449.7 319.1 447.2 328 440.2 328ZM442.7 312.1 447.8 307 454.8 307 454.8 314 449.7 319.1 442.7 319.1ZM447.8 307 458.8 307 458.8 314 447.8 314ZM451.8 307 458.8 307 466.4 308.9 466.4 315.9 459.4 315.9 451.8 314ZM459.4 308.9 487.4 308.9 487.4 315.9 459.4 315.9ZM480.4 308.9 487.4 308.9 493.1 311.8 493.1 318.8 486.1 318.8 480.4 315.9ZM486.1 311.8 491.8 308.9 498.8 308.9 498.8 315.9 493.1 318.8 486.1 318.8ZM491.8 308.9 515.9 308.9 515.9 315.9 491.8 315.9ZM508.9 308.9 515.9 308.9 527.4 317.5 527.4 324.5 520.4 324.5 508.9 315.9ZM520.4 317.5 531.8 308.9 538.8 308.9 538.8 315.9 527.4 324.5 520.4 324.5ZM531.8 308.9 538.8 308.9 552.2 317.5 552.2 324.5 545.2 324.5 531.8 315.9ZM545.2 317.5 552.8 305.1 559.8 305.1 559.8 312.1 552.2 324.5 545.2 324.5ZM552.8 305.1 559.5 300.3 566.5 300.3 566.5 307.3 559.8 312.1 552.8 312.1ZM559.5 300.3 566.5 300.3 573.1 305.1 573.1 312.1 566.1 312.1 559.5 307.3ZM566.1 305.1 573.1 305.1 578.7 311.4 578.7 318.4 571.7 318.4 566.1 312.1ZM571.7 311.4 578.7 311.4 582.2 315.3 582.2 322.3 575.2 322.3 571.7 318.4ZM575.2 315.3 582.2 315.3 584.6 323.3 584.6 330.3 577.6 330.3 575.2 322.3ZM577.6 323.3 584.6 323.3 586.2 331.2 586.2 338.2 579.2 338.2 577.6 330.3ZM579.2 331.2 586.2 331.2 589.4 333.6 589.4 340.6 582.4 340.6 579.2 338.2ZM582.4 333.6 586.4 329.2 593.4 329.2 593.4 336.2 589.4 340.6 582.4 340.6ZM586.4 329.2 588.3 319.3 595.3 319.3 595.3 326.3 593.4 336.2 586.4 336.2ZM588.3 319.3 591.1 316.1 598.1 316.1 598.1 323.1 595.3 326.3 588.3 326.3ZM591.1 316.1 598.1 316.1 601.3 318.5 601.3 325.5 594.3 325.5 591.1 323.1ZM594.3 318.5 601.3 318.5 605.3 321.3 605.3 328.3 598.3 328.3 594.3 325.5ZM598.3 321.3 603 319.3 610 319.3 610 326.3 605.3 328.3 598.3 328.3ZM603 319.3 604.2 311.4 611.2 311.4 611.2 318.4 610 326.3 603 326.3ZM604.2 311.4 606.2 307.4 613.2 307.4 613.2 314.4 611.2 318.4 604.2 318.4ZM606.2 307.4 610.2 307 617.2 307 617.2 314 613.2 314.4 606.2 314.4ZM610.2 307 617.2 307 621.2 309.4 621.2 316.4 614.2 316.4 610.2 314ZM614.2 309.4 621.2 309.4 626.5 312.7 626.5 319.7 619.5 319.7 614.2 316.4ZM619.5 312.7 626.5 312.7 634.1 313.7 634.1 320.7 627.1 320.7 619.5 319.7ZM627.1 313.7 634.1 313.7 639.8 320.3 639.8 327.3 632.8 327.3 627.1 320.7ZM632.8 320.3 638.5 310.8 645.5 310.8 645.5 317.8 639.8 327.3 632.8 327.3ZM638.5 310.8 644.3 307 651.3 307 651.3 314 645.5 317.8 638.5 317.8ZM644.3 307 651.3 307 660.8 310.8 660.8 317.8 653.8 317.8 644.3 314ZM653.8 310.8 660.8 310.8 768.7 311.9 768.7 318.9 761.7 318.9 653.8 317.8ZM761.7 311.9 768.8 308.4 775.8 308.4 775.8 315.4 768.7 318.9 761.7 318.9ZM768.8 308.4 775.8 308.4 782.9 311.9 782.9 318.9 775.9 318.9 768.8 315.4ZM775.9 311.9 951.2 311.9 951.2 318.9 775.9 318.9ZM944.2 311.9 951.2 311.9 961.3 315.9 961.3 322.9 954.3 322.9 944.2 318.9ZM954.3 315.9 961.3 315.9 971.5 316.9 971.5 323.9 964.5 323.9 954.3 322.9ZM964.5 316.9 972.5 313.9 979.5 313.9 979.5 320.9 971.5 323.9 964.5 323.9ZM972.5 313.9 979.5 313.9 989.7 314.9 989.7 321.9 982.7 321.9 972.5 320.9ZM982.7 314.9 989.7 314.9 995 320.5 995 327.5 988 327.5 982.7 321.9ZM988 320.5 995 320.5 1000.7 328 1000.7 335 993.7 335 988 327.5ZM993.7 328 1000.7 328 1003.5 332.5 1003.5 339.5 996.5 339.5 993.7 335ZM996.5 332.5 1003.5 332.5 1008.3 342.5 1008.3 349.5 1001.3 349.5 996.5 339.5ZM1001.3 342.5 1008.3 342.5 1013 355 1013 362 1006 362 1001.3 349.5ZM1006 355 1013 355 1017.8 370.9 1017.8 377.9 1010.8 377.9 1006 362ZM1010.8 370.9 1017.8 370.9 1022.5 388.3 1022.5 395.3 1015.5 395.3 1010.8 377.9ZM1015.5 388.3 1022.5 388.3 1027.3 407.4 1027.3 414.4 1020.3 414.4 1015.5 395.3ZM1020.3 407.4 1027.3 407.4 1032.1 423.3 1032.1 430.3 1025.1 430.3 1020.3 414.4ZM1025.1 423.3 1032.1 423.3 1035.3 439.2 1035.3 446.2 1028.3 446.2 1025.1 430.3ZM1028.3 439.2 1035.3 439.2 1040 456.5 1040 463.5 1033 463.5 1028.3 446.2ZM1033 456.5 1040 456.5 1041.6 462.5 1041.6 469.5 1034.6 469.5 1033 463.5ZM1034.6 462.5 1041.6 462.5 1043.2 479.4 1043.2 486.4 1036.2 486.4 1034.6 469.5ZM1036.2 479.4 1043.2 479.4 1046.4 508 1046.4 515 1039.4 515 1036.2 486.4ZM1039.4 508 1046.4 508 1049.5 531.8 1049.5 538.8 1042.5 538.8 1039.4 515ZM1042.5 531.8 1049.5 531.8 1051.9 555.6 1051.9 562.6 1044.9 562.6 1042.5 538.8ZM1044.9 555.6 1051.9 555.6 1054.3 579.5 1054.3 586.5 1047.3 586.5 1044.9 562.6ZM1047.3 579.5 1054.3 579.5 1056.7 603.3 1056.7 610.3 1049.7 610.3 1047.3 586.5ZM1049.7 603.3 1056.7 603.3 1059.1 627.1 1059.1 634.1 1052.1 634.1 1049.7 610.3ZM1052.1 627.1 1059.1 627.1 1062.3 648.3 1062.3 655.3 1055.3 655.3 1052.1 634.1ZM1055.3 648.3 1062.3 648.3 1066.2 664.1 1066.2 671.1 1059.2 671.1 1055.3 655.3ZM1059.2 664.1 1066.2 664.1 1070.2 680 1070.2 687 1063.2 687 1059.2 671.1ZM1063.2 680 1070.2 680 1075 694.3 1075 701.3 1068 701.3 1063.2 687ZM1068 694.3 1078.9 694.3 1078.9 701.3 1068 701.3ZM1071.9 694.3 1074.3 680 1081.3 680 1081.3 687 1078.9 701.3 1071.9 701.3ZM1074.3 680 1075.9 664.1 1082.9 664.1 1082.9 671.1 1081.3 687 1074.3 687ZM1075.9 664.1 1076.7 643.5 1083.7 643.5 1083.7 650.5 1082.9 671.1 1075.9 671.1ZM1076.7 643.5 1079.9 632.4 1086.9 632.4 1086.9 639.4 1083.7 650.5 1076.7 650.5ZM1079.9 632.4 1080.7 616.5 1087.7 616.5 1087.7 623.5 1086.9 639.4 1079.9 639.4ZM1080.7 616.5 1083.1 587.4 1090.1 587.4 1090.1 594.4 1087.7 623.5 1080.7 623.5ZM1083.1 587.4 1084.7 563.5 1091.7 563.5 1091.7 570.5 1090.1 594.4 1083.1 594.4ZM1084.7 563.5 1087 539.7 1094 539.7 1094 546.7 1091.7 570.5 1084.7 570.5ZM1087 539.7 1088.6 508 1095.6 508 1095.6 515 1094 546.7 1087 546.7ZM1088.6 508 1090.2 484.1 1097.2 484.1 1097.2 491.1 1095.6 515 1088.6 515ZM1090.2 484.1 1091.8 460.3 1098.8 460.3 1098.8 467.3 1097.2 491.1 1090.2 491.1ZM1091.8 460.3 1093.4 436.5 1100.4 436.5 1100.4 443.5 1098.8 467.3 1091.8 467.3ZM1093.4 436.5 1094.2 431.2 1101.2 431.2 1101.2 438.2 1100.4 443.5 1093.4 443.5ZM1094.2 431.2 1098.2 407.4 1105.2 407.4 1105.2 414.4 1101.2 438.2 1094.2 438.2ZM1098.2 407.4 1101.3 383.5 1108.3 383.5 1108.3 390.5 1105.2 414.4 1098.2 414.4ZM1101.3 383.5 1107.7 372.5 1114.7 372.5 1114.7 379.5 1108.3 390.5 1101.3 390.5ZM1107.7 372.5 1114.7 372.5 1119.5 377.2 1119.5 384.2 1112.5 384.2 1107.7 379.5ZM1112.5 377.2 1119.5 377.2 1122.6 391.5 1122.6 398.5 1115.6 398.5 1112.5 384.2ZM1115.6 391.5 1122.6 391.5 1126.6 407.4 1126.6 414.4 1119.6 414.4 1115.6 398.5ZM1119.6 407.4 1126.6 407.4 1129 423.3 1129 430.3 1122 430.3 1119.6 414.4ZM1122 423.3 1129 423.3 1130.5 439.2 1130.5 446.2 1123.5 446.2 1122 430.3ZM1123.5 439.2 1130.5 439.2 1131 452.5 1131 459.5 1124 459.5 1123.5 446.2ZM1124 452.5 1131 452.5 1132.2 476.2 1132.2 483.2 1125.2 483.2 1124 459.5ZM1125.2 476.2 1132.2 476.2 1135.3 492.1 1135.3 499.1 1128.3 499.1 1125.2 483.2ZM1128.3 492.1 1135.3 492.1 1138.5 508 1138.5 515 1131.5 515 1128.3 499.1ZM1131.5 508 1138.5 508 1143.3 520.7 1143.3 527.7 1136.3 527.7 1131.5 515ZM1136.3 520.7 1141 512.7 1148 512.7 1148 519.7 1143.3 527.7 1136.3 527.7ZM1141 512.7 1144.2 500 1151.2 500 1151.2 507 1148 519.7 1141 519.7ZM1144.2 500 1148.2 495.3 1155.2 495.3 1155.2 502.3 1151.2 507 1144.2 507ZM1148.2 495.3 1155.2 495.3 1159.1 503.2 1159.1 510.2 1152.1 510.2 1148.2 502.3ZM1152.1 503.2 1159.1 503.2 1159.9 523.9 1159.9 530.9 1152.9 530.9 1152.1 510.2ZM1152.9 523.9 1159.9 523.9 1160.7 539.7 1160.7 546.7 1153.7 546.7 1152.9 530.9ZM1153.7 539.7 1160.7 539.7 1163.1 555.6 1163.1 562.6 1156.1 562.6 1153.7 546.7ZM1156.1 555.6 1163.1 555.6 1164.7 571.5 1164.7 578.5 1157.7 578.5 1156.1 562.6ZM1157.7 571.5 1164.7 571.5 1167.1 587.4 1167.1 594.4 1160.1 594.4 1157.7 578.5ZM1160.1 587.4 1167.1 587.4 1168.7 604.9 1168.7 611.9 1161.7 611.9 1160.1 594.4ZM1161.7 604.9 1164.9 592.2 1171.9 592.2 1171.9 599.2 1168.7 611.9 1161.7 611.9ZM1164.9 592.2 1167.2 571.5 1174.2 571.5 1174.2 578.5 1171.9 599.2 1164.9 599.2ZM1167.2 571.5 1168 547.7 1175 547.7 1175 554.7 1174.2 578.5 1167.2 578.5ZM1168 547.7 1172.8 538.2 1179.8 538.2 1179.8 545.2 1175 554.7 1168 554.7ZM1172.8 538.2 1179.8 538.2 1184.6 547.7 1184.6 554.7 1177.6 554.7 1172.8 545.2ZM1177.6 547.7 1184.6 547.7 1187.7 563.5 1187.7 570.5 1180.7 570.5 1177.6 554.7ZM1180.7 563.5 1187.7 563.5 1190.9 579.5 1190.9 586.5 1183.9 586.5 1180.7 570.5ZM1183.9 579.5 1190.9 579.5 1194.1 595.3 1194.1 602.3 1187.1 602.3 1183.9 586.5ZM1187.1 595.3 1194.1 595.3 1196.5 611.2 1196.5 618.2 1189.5 618.2 1187.1 602.3ZM1189.5 611.2 1196.5 611.2 1198.9 632.4 1198.9 639.4 1191.9 639.4 1189.5 618.2ZM1191.9 632.4 1198.9 632.4 1202 648.3 1202 655.3 1195 655.3 1191.9 639.4ZM1195 648.3 1202 648.3 1203.6 664.1 1203.6 671.1 1196.6 671.1 1195 655.3ZM1196.6 664.1 1203.6 664.1 1205.2 688 1205.2 695 1198.2 695 1196.6 671.1ZM1198.2 688 1205.2 688 1208.4 703.9 1208.4 710.9 1201.4 710.9 1198.2 695ZM1201.4 703.9 1208.4 703.9 1210 719.7 1210 726.7 1203 726.7 1201.4 710.9ZM1203 719.7 1210 719.7 1213.2 735.6 1213.2 742.6 1206.2 742.6 1203 726.7ZM1206.2 735.6 1213.2 735.6 1216.3 751.5 1216.3 758.5 1209.3 758.5 1206.2 742.6ZM1209.3 751.5 1216.3 751.5 1222.7 756.3 1222.7 763.3 1215.7 763.3 1209.3 758.5ZM1215.7 756.3 1222.7 756.3 1232.2 761 1232.2 768 1225.2 768 1215.7 763.3ZM1225.2 761 1232.2 761 1243.5 765.9 1243.5 772.9 1236.5 772.9 1225.2 768ZM1236.5 765.9 1243.5 765.9 1249.1 767.6 1249.1 774.6 1242.1 774.6 1236.5 772.9ZM1242.1 767.6 1249.1 767.6 1254.6 770.9 1254.6 777.9 1247.6 777.9 1242.1 774.6ZM1247.6 770.9 1254.6 770.9 1260.2 774.3 1260.2 781.3 1253.2 781.3 1247.6 777.9ZM1253.2 774.3 1260.2 774.3 1265.7 778.7 1265.7 785.7 1258.7 785.7 1253.2 781.3ZM1258.7 778.7 1265.7 778.7 1271.3 780.9 1271.3 787.9 1264.3 787.9 1258.7 785.7ZM1264.3 780.9 1271.3 780.9 1276.9 782.1 1276.9 789.1 1269.9 789.1 1264.3 787.9ZM1269.9 782.1 1282.4 782.1 1282.4 789.1 1269.9 789.1ZM1275.4 782.1 1280.9 779.8 1287.9 779.8 1287.9 786.8 1282.4 789.1 1275.4 789.1ZM1280.9 779.8 1286.5 776.5 1293.5 776.5 1293.5 783.5 1287.9 786.8 1280.9 786.8ZM1286.5 776.5 1292.1 772.1 1299.1 772.1 1299.1 779.1 1293.5 783.5 1286.5 783.5ZM1292.1 772.1 1295.9 764.5 1302.9 764.5 1302.9 771.5 1299.1 779.1 1292.1 779.1ZM1295.9 764.5 1296.1 747.4 1303.1 747.4 1303.1 754.4 1302.9 771.5 1295.9 771.5ZM1296.1 747.4 1299.2 739.5 1306.2 739.5 1306.2 746.5 1303.1 754.4 1296.1 754.4ZM1299.2 707.7 1306.2 707.7 1306.2 746.5 1299.2 746.5ZM1299.2 707.7 1301.6 695 1308.6 695 1308.6 702 1306.2 714.7 1299.2 714.7ZM1301.6 695 1302.4 668 1309.4 668 1309.4 675 1308.6 702 1301.6 702ZM1302.4 628.3 1309.4 628.3 1309.4 675 1302.4 675ZM1302.4 628.3 1303.7 606.5 1310.7 606.5 1310.7 613.5 1309.4 635.3 1302.4 635.3ZM1303.7 606.5 1304.3 565.4 1311.3 565.4 1311.3 572.4 1310.7 613.5 1303.7 613.5ZM1304.3 565.4 1305.9 523.2 1312.9 523.2 1312.9 530.2 1311.3 572.4 1304.3 572.4ZM1305.9 523.2 1308.2 498.7 1315.2 498.7 1315.2 505.7 1312.9 530.2 1305.9 530.2ZM1308.2 498.7 1309 476.5 1316 476.5 1316 483.5 1315.2 505.7 1308.2 505.7ZM1309 476.5 1310.4 448.3 1317.4 448.3 1317.4 455.3 1316 483.5 1309 483.5ZM1310.4 448.3 1311.1 416.5 1318.1 416.5 1318.1 423.5 1317.4 455.3 1310.4 455.3ZM1311.1 411.2 1318.1 411.2 1318.1 423.5 1311.1 423.5ZM1311.1 411.2 1311.9 374.7 1318.9 374.7 1318.9 381.7 1318.1 418.2 1311.1 418.2ZM1310.4 357.2 1317.4 357.2 1318.9 374.7 1318.9 381.7 1311.9 381.7 1310.4 364.2ZM1310.4 357.2 1311.9 344.5 1318.9 344.5 1318.9 351.5 1317.4 364.2 1310.4 364.2ZM1311.9 344.5 1312.7 328 1319.7 328 1319.7 335 1318.9 351.5 1311.9 351.5ZM1312.7 328 1322.9 328 1322.9 335 1312.7 335ZM1315.9 328 1322.9 328 1323.7 347.7 1323.7 354.7 1316.7 354.7 1315.9 335ZM1316.7 347.7 1323.7 347.7 1332.5 354 1332.5 361 1325.5 361 1316.7 354.7ZM1325.5 354 1328.6 346.1 1335.6 346.1 1335.6 353.1 1332.5 361 1325.5 361ZM1328.6 346.1 1331.8 335 1338.8 335 1338.8 342 1335.6 353.1 1328.6 353.1ZM1331.8 335 1335 327 1342 327 1342 334 1338.8 342 1331.8 342ZM1335 308 1342 308 1342 334 1335 334ZM1335 308 1338.2 304.8 1345.2 304.8 1345.2 311.8 1342 315 1335 315ZM1338.2 288.9 1345.2 288.9 1345.2 311.8 1338.2 311.8ZM1338.2 288.9 1341.3 276.2 1348.3 276.2 1348.3 283.2 1345.2 295.9 1338.2 295.9ZM1341.3 276.2 1343.7 268.3 1350.7 268.3 1350.7 275.3 1348.3 283.2 1341.3 283.2ZM1343.7 268.3 1346.9 264.3 1353.9 264.3 1353.9 271.3 1350.7 275.3 1343.7 275.3ZM1346.9 264.3 1353.9 264.3 1357.1 268.3 1357.1 275.3 1350.1 275.3 1346.9 271.3ZM1350.1 268.3 1357.1 268.3 1357.9 276.2 1357.9 283.2 1350.9 283.2 1350.1 275.3ZM1350.9 276.2 1357.9 276.2 1360.2 293.7 1360.2 300.7 1353.2 300.7 1350.9 283.2ZM1353.2 293.7 1360.2 293.7 1363.4 300 1363.4 307 1356.4 307 1353.2 300.7ZM1356.4 300 1363.4 300 1363.4 322.9 1356.4 322.9ZM1356.4 315.9 1363.4 315.9 1365.8 323.9 1365.8 330.9 1358.8 330.9 1356.4 322.9ZM1358.8 323.9 1365.8 323.9 1366.6 379.5 1366.6 386.5 1359.6 386.5 1358.8 330.9ZM1359.6 379.5 1366.6 379.5 1369 387.4 1369 394.4 1362 394.4 1359.6 386.5ZM1362 387.4 1369 387.4 1369.8 416.5 1369.8 423.5 1362.8 423.5 1362 394.4ZM1362.8 416.5 1369.8 416.5 1370.5 448.3 1370.5 455.3 1363.5 455.3 1362.8 423.5ZM1363.5 448.3 1370.5 448.3 1372.1 480 1372.1 487 1365.1 487 1363.5 455.3ZM1365.1 480 1372.1 480 1373.7 511.8 1373.7 518.8 1366.7 518.8 1365.1 487ZM1366.7 511.8 1373.7 511.8 1376.1 527.7 1376.1 534.7 1369.1 534.7 1366.7 518.8ZM1369.1 527.7 1376.1 527.7 1376.9 559.5 1376.9 566.5 1369.9 566.5 1369.1 534.7ZM1369.9 559.5 1376.9 559.5 1378.5 575.3 1378.5 582.3 1371.5 582.3 1369.9 566.5ZM1371.5 575.3 1378.5 575.3 1379.3 616.5 1379.3 623.5 1372.3 623.5 1371.5 582.3ZM1372.3 616.5 1379.3 616.5 1381.7 628.3 1381.7 635.3 1374.7 635.3 1372.3 623.5ZM1374.7 628.3 1381.7 628.3 1381.7 655.9 1374.7 655.9ZM1374.7 648.9 1381.7 648.9 1384.1 656.9 1384.1 663.9 1377.1 663.9 1374.7 655.9ZM1377.1 656.9 1384.1 656.9 1384.9 668 1384.9 675 1377.9 675 1377.1 663.9ZM1377.9 668 1384.9 668 1388 677.5 1388 684.5 1381 684.5 1377.9 675ZM1381 677.5 1388 677.5 1392 679.9 1392 686.9 1385 686.9 1381 684.5ZM1385 679.9 1389.8 674.3 1396.8 674.3 1396.8 681.3 1392 686.9 1385 686.9ZM1389.8 674.3 1393.7 666.4 1400.7 666.4 1400.7 673.4 1396.8 681.3 1389.8 681.3ZM1393.7 666.4 1395.3 655.3 1402.3 655.3 1402.3 662.3 1400.7 673.4 1393.7 673.4ZM1395.3 655.3 1400.1 649.7 1407.1 649.7 1407.1 656.7 1402.3 662.3 1395.3 662.3ZM1400.1 649.7 1407.1 649.7 1411.9 653.7 1411.9 660.7 1404.9 660.7 1400.1 656.7ZM1404.9 653.7 1411.9 653.7 1412.7 663.2 1412.7 670.2 1405.7 670.2 1404.9 660.7ZM1405.7 663.2 1412.7 663.2 1416.6 669.5 1416.6 676.5 1409.6 676.5 1405.7 670.2ZM1409.6 669.5 1416.6 669.5 1419.8 680.7 1419.8 687.7 1412.8 687.7 1409.6 676.5ZM1412.8 680.7 1419.8 680.7 1423 691.8 1423 698.8 1416 698.8 1412.8 687.7ZM1416 691.8 1423 691.8 1427.7 702.9 1427.7 709.9 1420.7 709.9 1416 698.8ZM1420.7 702.9 1427.7 702.9 1432.5 714 1432.5 721 1425.5 721 1420.7 709.9ZM1425.5 714 1432.5 714 1437.3 723.5 1437.3 730.5 1430.3 730.5 1425.5 721ZM1430.3 723.5 1437.3 723.5 1442 734.7 1442 741.7 1435 741.7 1430.3 730.5ZM1435 734.7 1442 734.7 1448 745.5 1448 752.5 1441 752.5 1435 741.7ZM1441 745.5 1448 745.5 1454.4 754.5 1454.4 761.5 1447.4 761.5 1441 752.5ZM1447.4 754.5 1454.4 754.5 1462.3 761.9 1462.3 768.9 1455.3 768.9 1447.4 761.5ZM1455.3 761.9 1462.3 761.9 1471.9 768.3 1471.9 775.3 1464.9 775.3 1455.3 768.9ZM1464.9 768.3 1471.9 768.3 1481.4 771.5 1481.4 778.5 1474.4 778.5 1464.9 775.3ZM1474.4 771.5 1481.4 771.5 1494.1 773.8 1494.1 780.8 1487.1 780.8 1474.4 778.5ZM1487.1 773.8 1494.1 773.8 1503.6 777.8 1503.6 784.8 1496.6 784.8 1487.1 780.8ZM1496.6 777.8 1503.6 777.8 1513.2 782.5 1513.2 789.5 1506.2 789.5 1496.6 784.8ZM1506.2 782.5 1526 782.5 1526 789.5 1506.2 789.5Z" fill="#ff0000" fill-rule="nonzero" shape-rendering="crispEdges"/>
<path d="M128 125 135 125 151.4 127 151.4 134 144.4 134 128 132ZM144.4 127 151.4 127 166.5 130.8 166.5 137.8 159.5 137.8 144.4 134ZM159.5 130.8 166.5 130.8 185.5 135.5 185.5 142.5 178.5 142.5 159.5 137.8ZM178.5 135.5 185.5 135.5 204.5 142.2 204.5 149.2 197.5 149.2 178.5 142.5ZM197.5 142.2 204.5 142.2 218.1 151.8 218.1 158.8 211.1 158.8 197.5 149.2ZM211.1 151.8 218.1 151.8 227.5 167 227.5 174 220.5 174 211.1 158.8ZM220.5 167 227.5 167 235.2 184.2 235.2 191.2 228.2 191.2 220.5 174ZM228.2 184.2 235.2 184.2 242.9 203.2 242.9 210.2 235.9 210.2 228.2 191.2ZM235.9 203.2 242.9 203.2 248.5 226.1 248.5 233.1 241.5 233.1 235.9 210.2ZM241.5 226.1 248.5 226.1 253.3 249 253.3 256 246.3 256 241.5 233.1ZM246.3 249 253.3 249 257.1 273.5 257.1 280.5 250.1 280.5 246.3 256ZM250.1 273.5 257.1 273.5 260 296.5 260 303.5 253 303.5 250.1 280.5ZM253 296.5 260 296.5 261 313.5 261 320.5 254 320.5 253 303.5ZM254 313.5 261 313.5 264.8 330.8 264.8 337.8 257.8 337.8 254 320.5ZM257.8 330.8 264.8 330.8 268.5 349.9 268.5 356.9 261.5 356.9 257.8 337.8ZM261.5 349.9 268.5 349.9 271.5 365.1 271.5 372.1 264.5 372.1 261.5 356.9ZM264.5 365.1 271.5 365.1 274.3 382.3 274.3 389.3 267.3 389.3 264.5 372.1ZM267.3 382.3 274.3 382.3 279.1 403.2 279.1 410.2 272.1 410.2 267.3 389.3ZM272.1 403.2 279.1 403.2 283.8 422.3 283.8 429.3 276.8 429.3 272.1 410.2ZM276.8 422.3 283.8 422.3 288.5 441.3 288.5 448.3 281.5 448.3 276.8 429.3ZM281.5 441.3 288.5 441.3 294.3 460.5 294.3 467.5 287.3 467.5 281.5 448.3ZM287.3 460.5 294.3 460.5 301 477.5 301 484.5 294 484.5 287.3 467.5ZM294 477.5 301 477.5 307.5 494.7 307.5 501.7 300.5 501.7 294 484.5ZM300.5 494.7 307.5 494.7 317.2 508 317.2 515 310.2 515 300.5 501.7ZM310.2 508 317.2 508 326.7 519.5 326.7 526.5 319.7 526.5 310.2 515ZM319.7 519.5 326.7 519.5 335.3 528.1 335.3 535.1 328.3 535.1 319.7 526.5ZM328.3 528.1 343.9 528.1 343.9 535.1 328.3 535.1ZM336.9 528.1 346.5 523.3 353.5 523.3 353.5 530.3 343.9 535.1 336.9 535.1ZM346.5 523.3 354 520.5 361 520.5 361 527.5 353.5 530.3 346.5 530.3ZM354 520.5 361.5 508 368.5 508 368.5 515 361 527.5 354 527.5ZM361.5 508 369.3 487.1 376.3 487.1 376.3 494.1 368.5 515 361.5 515ZM369.3 487.1 376.9 464.2 383.9 464.2 383.9 471.2 376.3 494.1 369.3 494.1ZM376.9 464.2 382.5 445.2 389.5 445.2 389.5 452.2 383.9 471.2 376.9 471.2ZM382.5 445.2 386.8 434.1 393.8 434.1 393.8 441.1 389.5 452.2 382.5 452.2ZM386.8 434.1 389.4 422.6 396.4 422.6 396.4 429.6 393.8 441.1 386.8 441.1ZM389.4 422.6 393.2 411.2 400.2 411.2 400.2 418.2 396.4 429.6 389.4 429.6ZM393.2 411.2 397 401 404 401 404 408 400.2 418.2 393.2 418.2ZM397 401 400.8 388.3 407.8 388.3 407.8 395.3 404 408 397 408ZM400.8 388.3 404.6 375.6 411.6 375.6 411.6 382.6 407.8 395.3 400.8 395.3ZM404.6 375.6 409.7 365.5 416.7 365.5 416.7 372.5 411.6 382.6 404.6 382.6ZM409.7 365.5 413.5 355.3 420.5 355.3 420.5 362.3 416.7 372.5 409.7 372.5ZM413.5 355.3 417.3 343.8 424.3 343.8 424.3 350.8 420.5 362.3 413.5 362.3ZM417.3 343.8 422.4 333.7 429.4 333.7 429.4 340.7 424.3 350.8 417.3 350.8ZM422.4 333.7 426.2 321 433.2 321 433.2 328 429.4 340.7 422.4 340.7ZM426.2 321 428.8 305.7 435.8 305.7 435.8 312.7 433.2 328 426.2 328ZM428.8 305.7 431.9 289.2 438.9 289.2 438.9 296.2 435.8 312.7 428.8 312.7ZM431.9 289.2 433.8 276.5 440.8 276.5 440.8 283.5 438.9 296.2 431.9 296.2ZM433.8 276.5 436.5 256.6 443.5 256.6 443.5 263.6 440.8 283.5 433.8 283.5ZM436.5 256.6 440.3 237.5 447.3 237.5 447.3 244.5 443.5 263.6 436.5 263.6ZM440.3 237.5 444.1 218.5 451.1 218.5 451.1 225.5 447.3 244.5 440.3 244.5ZM444.1 218.5 448 201.3 455 201.3 455 208.3 451.1 225.5 444.1 225.5ZM448 201.3 450.8 186.1 457.8 186.1 457.8 193.1 455 208.3 448 208.3ZM450.8 186.1 453.7 170.9 460.7 170.9 460.7 177.9 457.8 193.1 450.8 193.1ZM453.7 170.9 457.5 155.6 464.5 155.6 464.5 162.6 460.7 177.9 453.7 177.9ZM457.5 155.6 461.3 140.4 468.3 140.4 468.3 147.4 464.5 162.6 457.5 162.6ZM461.3 140.4 465.1 125.1 472.1 125.1 472.1 132.1 468.3 147.4 461.3 147.4ZM465.1 125.1 470.8 119.4 477.8 119.4 477.8 126.4 472.1 132.1 465.1 132.1ZM470.8 119.4 487.4 119.4 487.4 126.4 470.8 126.4ZM480.4 119.4 487.4 119.4 493.1 122.3 493.1 129.3 486.1 129.3 480.4 126.4ZM486.1 122.3 497.5 118.5 504.5 118.5 504.5 125.5 493.1 129.3 486.1 129.3ZM497.5 118.5 504.5 118.5 512.1 122.3 512.1 129.3 505.1 129.3 497.5 125.5ZM505.1 122.3 533.1 122.3 533.1 129.3 505.1 129.3ZM526.1 122.3 533.1 122.3 544.5 125.1 544.5 132.1 537.5 132.1 526.1 129.3ZM537.5 125.1 544.5 125.1 552.2 136.5 552.2 143.5 545.2 143.5 537.5 132.1ZM545.2 136.5 550.9 127 557.9 127 557.9 134 552.2 143.5 545.2 143.5ZM550.9 127 554.7 104.1 561.7 104.1 561.7 111.1 557.9 134 550.9 134ZM554.7 104.1 568.4 104.1 568.4 111.1 554.7 111.1ZM561.4 104.1 568.4 104.1 575 117.5 575 124.5 568 124.5 561.4 111.1ZM568 117.5 575 117.5 582.7 132.7 582.7 139.7 575.7 139.7 568 124.5ZM575.7 132.7 582.7 132.7 589.3 145.1 589.3 152.1 582.3 152.1 575.7 139.7ZM582.3 145.1 586 134.5 593 134.5 593 141.5 589.3 152.1 582.3 152.1ZM586 134.5 588.5 128 595.5 128 595.5 135 593 141.5 586 141.5ZM588.5 128 593.5 127.5 600.5 127.5 600.5 134.5 595.5 135 588.5 135ZM593.5 127.5 600.5 127.5 604 130.5 604 137.5 597 137.5 593.5 134.5ZM597 130.5 600 123.5 607 123.5 607 130.5 604 137.5 597 137.5ZM600 123.5 603 117.5 610 117.5 610 124.5 607 130.5 600 130.5ZM603 117.5 607.5 113.5 614.5 113.5 614.5 120.5 610 124.5 603 124.5ZM607.5 113.5 614.5 113.5 618 117.5 618 124.5 611 124.5 607.5 120.5ZM611 117.5 618 117.5 622 122.5 622 129.5 615 129.5 611 124.5ZM615 122.5 639 122.5 639 129.5 615 129.5ZM632 122.5 636 109.5 643 109.5 643 116.5 639 129.5 632 129.5ZM636 109.5 639 106.5 646 106.5 646 113.5 643 116.5 636 116.5ZM639 106.5 654 106.5 654 113.5 639 113.5ZM647 106.5 654 106.5 658.5 114.5 658.5 121.5 651.5 121.5 647 113.5ZM651.5 114.5 658.5 114.5 663.5 121.5 663.5 128.5 656.5 128.5 651.5 121.5ZM656.5 121.5 663.5 121.5 776.8 122 776.8 129 769.8 129 656.5 128.5ZM769.8 122 776.8 122 784.9 128.1 784.9 135.1 777.9 135.1 769.8 129ZM777.9 128.1 784.9 128.1 795 132.1 795 139.1 788 139.1 777.9 135.1ZM788 132.1 795 132.1 805.2 133.1 805.2 140.1 798.2 140.1 788 139.1ZM798.2 133.1 810.3 129.1 817.3 129.1 817.3 136.1 805.2 140.1 798.2 140.1ZM810.3 129.1 824.5 123 831.5 123 831.5 130 817.3 136.1 810.3 136.1ZM824.5 123 897.5 122 904.5 122 904.5 129 831.5 130 824.5 130ZM897.5 122 904.5 122 908.5 124 908.5 131 901.5 131 897.5 129ZM901.5 124 907.7 121.4 914.7 121.4 914.7 128.4 908.5 131 901.5 131ZM907.7 121.4 939 121.4 939 128.4 907.7 128.4ZM932 121.4 939 121.4 947.1 127.1 947.1 134.1 940.1 134.1 932 128.4ZM940.1 127.1 947.1 127.1 955.2 133.1 955.2 140.1 948.2 140.1 940.1 134.1ZM948.2 133.1 955.2 133.1 963.5 144 963.5 151 956.5 151 948.2 140.1ZM956.5 144 963.5 144 974 154.6 974 161.6 967 161.6 956.5 151ZM967 154.6 974 154.6 985.4 160.3 985.4 167.3 978.4 167.3 967 161.6ZM978.4 160.3 985.4 160.3 991.1 168 991.1 175 984.1 175 978.4 167.3ZM984.1 168 991.1 168 996.9 181.3 996.9 188.3 989.9 188.3 984.1 175ZM989.9 181.3 996.9 181.3 1002.5 196.5 1002.5 203.5 995.5 203.5 989.9 188.3ZM995.5 196.5 1002.5 196.5 1008.3 211.8 1008.3 218.8 1001.3 218.8 995.5 203.5ZM1001.3 211.8 1008.3 211.8 1014 227 1014 234 1007 234 1001.3 218.8ZM1007 227 1014 227 1018.8 246.1 1018.8 253.1 1011.8 253.1 1007 234ZM1011.8 246.1 1018.8 246.1 1022.6 262.5 1022.6 269.5 1015.6 269.5 1011.8 253.1ZM1015.6 262.5 1022.6 262.5 1025.7 273.5 1025.7 280.5 1018.7 280.5 1015.6 269.5ZM1018.7 273.5 1025.7 273.5 1028.9 288.3 1028.9 295.3 1021.9 295.3 1018.7 280.5ZM1021.9 288.3 1028.9 288.3 1032.1 304.1 1032.1 311.1 1025.1 311.1 1021.9 295.3ZM1025.1 304.1 1032.1 304.1 1032.1 335 1025.1 335ZM1025.1 328 1032.1 328 1035.3 343.9 1035.3 350.9 1028.3 350.9 1025.1 335ZM1028.3 343.9 1035.3 343.9 1037.6 359.7 1037.6 366.7 1030.6 366.7 1028.3 350.9ZM1030.6 359.7 1037.6 359.7 1039.2 380.4 1039.2 387.4 1032.2 387.4 1030.6 366.7ZM1032.2 380.4 1039.2 380.4 1040.8 399.5 1040.8 406.5 1033.8 406.5 1032.2 387.4ZM1033.8 399.5 1040.8 399.5 1044 415.3 1044 422.3 1037 422.3 1033.8 406.5ZM1037 415.3 1044 415.3 1044.8 431.2 1044.8 438.2 1037.8 438.2 1037 422.3ZM1037.8 431.2 1044.8 431.2 1047 443.5 1047 450.5 1040 450.5 1037.8 438.2ZM1040 443.5 1047 443.5 1049.5 454.5 1049.5 461.5 1042.5 461.5 1040 450.5ZM1042.5 454.5 1049.5 454.5 1049.5 475.3 1042.5 475.3ZM1042.5 468.3 1049.5 468.3 1052.7 481 1052.7 488 1045.7 488 1042.5 475.3ZM1045.7 481 1052.7 481 1055.9 495.3 1055.9 502.3 1048.9 502.3 1045.7 488ZM1048.9 495.3 1055.9 495.3 1060.7 512.7 1060.7 519.7 1053.7 519.7 1048.9 502.3ZM1053.7 512.7 1060.7 512.7 1064.7 528.6 1064.7 535.6 1057.7 535.6 1053.7 519.7ZM1057.7 528.6 1064.7 528.6 1067.8 544.5 1067.8 551.5 1060.8 551.5 1057.7 535.6ZM1060.8 544.5 1067.8 544.5 1071.8 557.2 1071.8 564.2 1064.8 564.2 1060.8 551.5ZM1064.8 557.2 1071.8 557.2 1076.6 566.7 1076.6 573.7 1069.6 573.7 1064.8 564.2ZM1069.6 566.7 1074.3 557.2 1081.3 557.2 1081.3 564.2 1076.6 573.7 1069.6 573.7ZM1074.3 557.2 1077.5 544.5 1084.5 544.5 1084.5 551.5 1081.3 564.2 1074.3 564.2ZM1077.5 544.5 1080.7 528.6 1087.7 528.6 1087.7 535.6 1084.5 551.5 1077.5 551.5ZM1080.7 528.6 1083.9 508 1090.9 508 1090.9 515 1087.7 535.6 1080.7 535.6ZM1083.9 508 1085.5 492.1 1092.5 492.1 1092.5 499.1 1090.9 515 1083.9 515ZM1085.5 492.1 1086.2 468.3 1093.2 468.3 1093.2 475.3 1092.5 499.1 1085.5 499.1ZM1086.2 468.3 1088.6 452.4 1095.6 452.4 1095.6 459.4 1093.2 475.3 1086.2 475.3ZM1088.6 452.4 1089.4 436.5 1096.4 436.5 1096.4 443.5 1095.6 459.4 1088.6 459.4ZM1089.4 436.5 1091.8 407.4 1098.8 407.4 1098.8 414.4 1096.4 443.5 1089.4 443.5ZM1091.8 407.4 1095 383.5 1102 383.5 1102 390.5 1098.8 414.4 1091.8 414.4ZM1095 383.5 1097.4 359.7 1104.4 359.7 1104.4 366.7 1102 390.5 1095 390.5ZM1097.4 359.7 1098.2 335.9 1105.2 335.9 1105.2 342.9 1104.4 366.7 1097.4 366.7ZM1098.2 335.9 1101.3 316.9 1108.3 316.9 1108.3 323.9 1105.2 342.9 1098.2 342.9ZM1101.3 316.9 1104.5 301 1111.5 301 1111.5 308 1108.3 323.9 1101.3 323.9ZM1104.5 301 1107.7 288.3 1114.7 288.3 1114.7 295.3 1111.5 308 1104.5 308ZM1107.7 288.3 1112.5 280.3 1119.5 280.3 1119.5 287.3 1114.7 295.3 1107.7 295.3ZM1112.5 280.3 1119.5 280.3 1124.2 288.3 1124.2 295.3 1117.2 295.3 1112.5 287.3ZM1117.2 288.3 1124.2 288.3 1127.4 304.1 1127.4 311.1 1120.4 311.1 1117.2 295.3ZM1120.4 304.1 1127.4 304.1 1129.8 320 1129.8 327 1122.8 327 1120.4 311.1ZM1122.8 320 1129.8 320 1130.5 343.9 1130.5 350.9 1123.5 350.9 1122.8 327ZM1123.5 343.9 1130.5 343.9 1132.2 367.7 1132.2 374.7 1125.2 374.7 1123.5 350.9ZM1125.2 367.7 1132.2 367.7 1135.3 383.5 1135.3 390.5 1128.3 390.5 1125.2 374.7ZM1128.3 383.5 1135.3 383.5 1137.3 395.5 1137.3 402.5 1130.3 402.5 1128.3 390.5ZM1130.3 395.5 1137.3 395.5 1138.3 414.6 1138.3 421.6 1131.3 421.6 1130.3 402.5ZM1131.3 414.6 1138.3 414.6 1141.1 424.2 1141.1 431.2 1134.1 431.2 1131.3 421.6ZM1134.1 424.2 1141.1 424.2 1142.1 436.5 1142.1 443.5 1135.1 443.5 1134.1 431.2ZM1135.1 436.5 1142.1 436.5 1144.9 438.5 1144.9 445.5 1137.9 445.5 1135.1 443.5ZM1137.9 438.5 1140.8 435.6 1147.8 435.6 1147.8 442.6 1144.9 445.5 1137.9 445.5ZM1140.8 435.6 1143.2 428.9 1150.2 428.9 1150.2 435.9 1147.8 442.6 1140.8 442.6ZM1143.2 428.9 1144.6 419.4 1151.6 419.4 1151.6 426.4 1150.2 435.9 1143.2 435.9ZM1144.6 419.4 1145.6 405.1 1152.6 405.1 1152.6 412.1 1151.6 426.4 1144.6 426.4ZM1145.6 405.1 1150.3 401.3 1157.3 401.3 1157.3 408.3 1152.6 412.1 1145.6 412.1ZM1150.3 401.3 1157.3 401.3 1160.7 405.1 1160.7 412.1 1153.7 412.1 1150.3 408.3ZM1153.7 405.1 1160.7 405.1 1161.1 419.4 1161.1 426.4 1154.1 426.4 1153.7 412.1ZM1154.1 419.4 1161.1 419.4 1163.1 433.7 1163.1 440.7 1156.1 440.7 1154.1 426.4ZM1156.1 433.7 1163.1 433.7 1165.9 443.2 1165.9 450.2 1158.9 450.2 1156.1 440.7ZM1158.9 443.2 1165.9 443.2 1166.4 457.5 1166.4 464.5 1159.4 464.5 1158.9 450.2ZM1159.4 457.5 1166.4 457.5 1168.8 464.2 1168.8 471.2 1161.8 471.2 1159.4 464.5ZM1161.8 464.2 1164.6 462.3 1171.6 462.3 1171.6 469.3 1168.8 471.2 1161.8 471.2ZM1164.6 462.3 1165.6 448 1172.6 448 1172.6 455 1171.6 469.3 1164.6 469.3ZM1165.6 448 1168.4 438.5 1175.4 438.5 1175.4 445.5 1172.6 455 1165.6 455ZM1168.4 426.1 1175.4 426.1 1175.4 445.5 1168.4 445.5ZM1168.4 426.1 1170.8 414.6 1177.8 414.6 1177.8 421.6 1175.4 433.1 1168.4 433.1ZM1170.8 414.6 1171.3 405.1 1178.3 405.1 1178.3 412.1 1177.8 421.6 1170.8 421.6ZM1171.3 405.1 1173.2 398.4 1180.2 398.4 1180.2 405.4 1178.3 412.1 1171.3 412.1ZM1173.2 398.4 1180.2 398.4 1183.1 399.4 1183.1 406.4 1176.1 406.4 1173.2 405.4ZM1176.1 399.4 1183.1 399.4 1185.5 405.1 1185.5 412.1 1178.5 412.1 1176.1 406.4ZM1178.5 405.1 1185.5 405.1 1186.9 414.6 1186.9 421.6 1179.9 421.6 1178.5 412.1ZM1179.9 414.6 1186.9 414.6 1188.8 419.4 1188.8 426.4 1181.8 426.4 1179.9 421.6ZM1181.8 419.4 1188.8 419.4 1190.2 428.9 1190.2 435.9 1183.2 435.9 1181.8 426.4ZM1183.2 428.9 1190.2 428.9 1191.7 438.5 1191.7 445.5 1184.7 445.5 1183.2 435.9ZM1184.7 438.5 1191.7 438.5 1193.1 448 1193.1 455 1186.1 455 1184.7 445.5ZM1186.1 448 1193.1 448 1194.5 457.5 1194.5 464.5 1187.5 464.5 1186.1 455ZM1187.5 457.5 1194.5 457.5 1195.9 467.1 1195.9 474.1 1188.9 474.1 1187.5 464.5ZM1188.9 467.1 1195.9 467.1 1197.8 476.6 1197.8 483.6 1190.8 483.6 1188.9 474.1ZM1190.8 476.6 1197.8 476.6 1200.2 486.1 1200.2 493.1 1193.2 493.1 1190.8 483.6ZM1193.2 486.1 1200.2 486.1 1201.7 496.5 1201.7 503.5 1194.7 503.5 1193.2 493.1ZM1194.7 496.5 1201.7 496.5 1204.5 503.2 1204.5 510.2 1197.5 510.2 1194.7 503.5ZM1197.5 503.2 1204.5 503.2 1206 523.9 1206 530.9 1199 530.9 1197.5 510.2ZM1199 523.9 1206 523.9 1208.4 539.7 1208.4 546.7 1201.4 546.7 1199 530.9ZM1201.4 539.7 1208.4 539.7 1211.6 555.6 1211.6 562.6 1204.6 562.6 1201.4 546.7ZM1204.6 555.6 1211.6 555.6 1214.7 568.3 1214.7 575.3 1207.7 575.3 1204.6 562.6ZM1207.7 568.3 1214.7 568.3 1219.5 577.9 1219.5 584.9 1212.5 584.9 1207.7 575.3ZM1212.5 577.9 1219.5 577.9 1229 581 1229 588 1222 588 1212.5 584.9ZM1222 581 1229 581 1238.5 583.5 1238.5 590.5 1231.5 590.5 1222 588ZM1231.5 583.5 1238.5 583.5 1243.5 586.5 1243.5 593.5 1236.5 593.5 1231.5 590.5ZM1236.5 586.5 1243.5 586.5 1253 587.2 1253 594.2 1246 594.2 1236.5 593.5ZM1246 587.2 1253 587.2 1259.4 589.5 1259.4 596.5 1252.4 596.5 1246 594.2ZM1252.4 589.5 1259.4 589.5 1264.1 592.8 1264.1 599.8 1257.1 599.8 1252.4 596.5ZM1257.1 592.8 1264.1 592.8 1292.4 593.2 1292.4 600.2 1285.4 600.2 1257.1 599.8ZM1285.4 593.2 1289.8 589.8 1296.8 589.8 1296.8 596.8 1292.4 600.2 1285.4 600.2ZM1289.8 589.8 1294.3 583.2 1301.3 583.2 1301.3 590.2 1296.8 596.8 1289.8 596.8ZM1294.3 583.2 1294.8 568.7 1301.8 568.7 1301.8 575.7 1301.3 590.2 1294.3 590.2ZM1294.8 568.7 1297.6 564.3 1304.6 564.3 1304.6 571.3 1301.8 575.7 1294.8 575.7ZM1297.6 564.3 1298.7 529.8 1305.7 529.8 1305.7 536.8 1304.6 571.3 1297.6 571.3ZM1298.7 529.8 1300.4 520.9 1307.4 520.9 1307.4 527.9 1305.7 536.8 1298.7 536.8ZM1300.4 520.9 1300.8 472.1 1307.8 472.1 1307.8 479.1 1307.4 527.9 1300.4 527.9ZM1300.8 472.1 1303.2 464.1 1310.2 464.1 1310.2 471.1 1307.8 479.1 1300.8 479.1ZM1303.2 464.1 1304 436.5 1311 436.5 1311 443.5 1310.2 471.1 1303.2 471.1ZM1304 414.4 1311 414.4 1311 443.5 1304 443.5ZM1304 414.4 1307.2 404.9 1314.2 404.9 1314.2 411.9 1311 421.4 1304 421.4ZM1307.2 382.6 1314.2 382.6 1314.2 411.9 1307.2 411.9ZM1307.2 382.6 1309.5 374.7 1316.5 374.7 1316.5 381.7 1314.2 389.6 1307.2 389.6ZM1309.5 374.7 1311.1 359.6 1318.1 359.6 1318.1 366.6 1316.5 381.7 1309.5 381.7ZM1311.1 359.6 1317.5 358.8 1324.5 358.8 1324.5 365.8 1318.1 366.6 1311.1 366.6ZM1317.5 358.8 1319.1 347.7 1326.1 347.7 1326.1 354.7 1324.5 365.8 1317.5 365.8ZM1319.1 347.7 1323.1 339.7 1330.1 339.7 1330.1 346.7 1326.1 354.7 1319.1 354.7ZM1323.1 315.9 1330.1 315.9 1330.1 346.7 1323.1 346.7ZM1323.1 315.9 1325.5 308 1332.5 308 1332.5 315 1330.1 322.9 1323.1 322.9ZM1325.5 308 1326.2 279.4 1333.2 279.4 1333.2 286.4 1332.5 315 1325.5 315ZM1326.2 279.4 1329.4 268.3 1336.4 268.3 1336.4 275.3 1333.2 286.4 1326.2 286.4ZM1329.4 231.2 1336.4 231.2 1336.4 275.3 1329.4 275.3ZM1329.4 231.2 1331.8 199.5 1338.8 199.5 1338.8 206.5 1336.4 238.2 1329.4 238.2ZM1331.8 199.5 1335 186.7 1342 186.7 1342 193.7 1338.8 206.5 1331.8 206.5ZM1335 151.8 1342 151.8 1342 193.7 1335 193.7ZM1335 151.8 1335.8 135.9 1342.8 135.9 1342.8 142.9 1342 158.8 1335 158.8ZM1335.8 135.9 1338.2 120 1345.2 120 1345.2 127 1342.8 142.9 1335.8 142.9ZM1338.2 104.1 1345.2 104.1 1345.2 127 1338.2 127ZM1338.2 104.1 1340.5 96.2 1347.5 96.2 1347.5 103.2 1345.2 111.1 1338.2 111.1ZM1340.5 96.2 1341.3 85.1 1348.3 85.1 1348.3 92.1 1347.5 103.2 1340.5 103.2ZM1341.3 85.1 1346.1 80.3 1353.1 80.3 1353.1 87.3 1348.3 92.1 1341.3 92.1ZM1346.1 80.3 1349.3 78.5 1356.3 78.5 1356.3 85.5 1353.1 87.3 1346.1 87.3ZM1349.3 78.5 1356.3 78.5 1360.2 80.3 1360.2 87.3 1353.2 87.3 1349.3 85.5ZM1353.2 80.3 1360.2 80.3 1360.2 103.2 1353.2 103.2ZM1353.2 96.2 1360.2 96.2 1363.4 107.3 1363.4 114.3 1356.4 114.3 1353.2 103.2ZM1356.4 107.3 1363.4 107.3 1363.4 135 1356.4 135ZM1356.4 128 1363.4 128 1366.6 135.9 1366.6 142.9 1359.6 142.9 1356.4 135ZM1359.6 135.9 1366.6 135.9 1366.6 198.5 1359.6 198.5ZM1359.6 191.5 1366.6 191.5 1369.8 202.6 1369.8 209.6 1362.8 209.6 1359.6 198.5ZM1362.8 202.6 1369.8 202.6 1369.8 263.5 1362.8 263.5ZM1362.8 256.5 1369.8 256.5 1372.1 268.3 1372.1 275.3 1365.1 275.3 1362.8 263.5ZM1365.1 268.3 1372.1 268.3 1372.9 300 1372.9 307 1365.9 307 1365.1 275.3ZM1365.9 300 1372.9 300 1372.9 330.9 1365.9 330.9ZM1365.9 323.9 1372.9 323.9 1376.1 335 1376.1 342 1369.1 342 1365.9 330.9ZM1369.1 335 1376.1 335 1376.1 378.5 1369.1 378.5ZM1369.1 371.5 1376.1 371.5 1378.5 382.6 1378.5 389.6 1371.5 389.6 1369.1 378.5ZM1371.5 382.6 1378.5 382.6 1379.3 436.5 1379.3 443.5 1372.3 443.5 1371.5 389.6ZM1372.3 436.5 1379.3 436.5 1381.7 448.3 1381.7 455.3 1374.7 455.3 1372.3 443.5ZM1374.7 448.3 1381.7 448.3 1381.7 479.1 1374.7 479.1ZM1374.7 472.1 1381.7 472.1 1384.9 480 1384.9 487 1377.9 487 1374.7 479.1ZM1377.9 480 1384.9 480 1384.9 502.9 1377.9 502.9ZM1377.9 495.9 1384.9 495.9 1387.2 505.5 1387.2 512.5 1380.2 512.5 1377.9 502.9ZM1380.2 505.5 1387.2 505.5 1392.8 516.5 1392.8 523.5 1385.8 523.5 1380.2 512.5ZM1385.8 516.5 1390.5 508.6 1397.5 508.6 1397.5 515.6 1392.8 523.5 1385.8 523.5ZM1390.5 508.6 1393.7 500.7 1400.7 500.7 1400.7 507.7 1397.5 515.6 1390.5 515.6ZM1393.7 500.7 1400.1 495.9 1407.1 495.9 1407.1 502.9 1400.7 507.7 1393.7 507.7ZM1400.1 495.9 1407.1 495.9 1411.9 500.7 1411.9 507.7 1404.9 507.7 1400.1 502.9ZM1404.9 500.7 1411.9 500.7 1415.8 508.6 1415.8 515.6 1408.8 515.6 1404.9 507.7ZM1408.8 508.6 1415.8 508.6 1418.2 518.2 1418.2 525.2 1411.2 525.2 1408.8 515.6ZM1411.2 518.2 1418.2 518.2 1423 527.7 1423 534.7 1416 534.7 1411.2 525.2ZM1416 527.7 1423 527.7 1427.7 538.8 1427.7 545.8 1420.7 545.8 1416 534.7ZM1420.7 538.8 1427.7 538.8 1434.1 546 1434.1 553 1427.1 553 1420.7 545.8ZM1427.1 546 1434.1 546 1439.3 556.8 1439.3 563.8 1432.3 563.8 1427.1 553ZM1432.3 556.8 1439.3 556.8 1446.4 566.9 1446.4 573.9 1439.4 573.9 1432.3 563.8ZM1439.4 566.9 1446.4 566.9 1456.5 575 1456.5 582 1449.5 582 1439.4 573.9ZM1449.5 575 1456.5 575 1466.6 581.1 1466.6 588.1 1459.6 588.1 1449.5 582ZM1459.6 581.1 1466.6 581.1 1479.8 587.2 1479.8 594.2 1472.8 594.2 1459.6 588.1ZM1472.8 587.2 1479.8 587.2 1495 590.2 1495 597.2 1488 597.2 1472.8 594.2ZM1488 590.2 1495 590.2 1505.2 593.8 1505.2 600.8 1498.2 600.8 1488 597.2ZM1498.2 593.8 1526 593.8 1526 600.8 1498.2 600.8Z" fill="#000000" fill-rule="nonzero" shape-rendering="crispEdges"/>
<line x1="329.1" y1="36" x2="329.1" y2="1025" stroke="#000" stroke-width="4" stroke-dasharray="7 9.4" stroke-linecap="round" stroke-dashoffset="1.8"/>
<line x1="1071" y1="50" x2="1071" y2="1026" stroke="#000" stroke-width="4" stroke-dasharray="7 9.4" stroke-linecap="round" stroke-dashoffset="0"/>
<line x1="1220" y1="38" x2="1220" y2="1014" stroke="#000" stroke-width="4" stroke-dasharray="7 9.4" stroke-linecap="round" stroke-dashoffset="0.4"/>
<line x1="1274.2" y1="43.7" x2="1274.2" y2="1022" stroke="#000" stroke-width="4" stroke-dasharray="7 9.4" stroke-linecap="round" stroke-dashoffset="0"/>
<line x1="423.8" y1="554.4" x2="423.8" y2="853" stroke="#000" stroke-width="4" stroke-dasharray="7 9.4" stroke-linecap="round" stroke-dashoffset="0"/>
<line x1="359.9" y1="871" x2="359.9" y2="1010" stroke="#000" stroke-width="4" stroke-dasharray="7 9.4" stroke-linecap="round" stroke-dashoffset="0"/>
<line x1="323" y1="998" x2="323" y2="1020" stroke="#000" stroke-width="4.8"/>
<line x1="520.5" y1="998" x2="520.5" y2="1020" stroke="#000" stroke-width="4.8"/>
<line x1="717.9" y1="998" x2="717.9" y2="1020" stroke="#000" stroke-width="4.8"/>
<line x1="915.6" y1="998" x2="915.6" y2="1020" stroke="#000" stroke-width="4.8"/>
<line x1="1109.8" y1="998" x2="1109.8" y2="1020" stroke="#000" stroke-width="4.8"/>
<line x1="1308" y1="998" x2="1308" y2="1020" stroke="#000" stroke-width="4.8"/>
<line x1="1505.5" y1="998" x2="1505.5" y2="1020" stroke="#000" stroke-width="4.8"/>
<line x1="226" y1="1010.5" x2="226" y2="1020" stroke="#000" stroke-width="4.8"/>
<line x1="423.6" y1="1010.5" x2="423.6" y2="1020" stroke="#000" stroke-width="4.8"/>
<line x1="617.7" y1="1010.5" x2="617.7" y2="1020" stroke="#000" stroke-width="4.8"/>
<line x1="815.5" y1="1010.5" x2="815.5" y2="1020" stroke="#000" stroke-width="4.8"/>
<line x1="1012.7" y1="1010.5" x2="1012.7" y2="1020" stroke="#000" stroke-width="4.8"/>
<line x1="1210.4" y1="1010.5" x2="1210.4" y2="1020" stroke="#000" stroke-width="4.8"/>
<line x1="1405.5" y1="1010.5" x2="1405.5" y2="1020" stroke="#000" stroke-width="4.8"/>
<text transform="translate(127.8 1086.8) scale(1 1.08)" x="0" y="0" font-family="'Liberation Serif', 'Times New Roman', serif" font-size="57" text-anchor="middle">4000</text>
<text transform="translate(324.5 1086.8) scale(1 1.08)" x="0" y="0" font-family="'Liberation Serif', 'Times New Roman', serif" font-size="57" text-anchor="middle">3500</text>
<text transform="translate(519.7 1086.8) scale(1 1.08)" x="0" y="0" font-family="'Liberation Serif', 'Times New Roman', serif" font-size="57" text-anchor="middle">3000</text>
<text transform="translate(716.7 1086.8) scale(1 1.08)" x="0" y="0" font-family="'Liberation Serif', 'Times New Roman', serif" font-size="57" text-anchor="middle">2500</text>
<text transform="translate(914.9 1086.8) scale(1 1.08)" x="0" y="0" font-family="'Liberation Serif', 'Times New Roman', serif" font-size="57" text-anchor="middle">2000</text>
<text transform="translate(1113.9 1086.8) scale(1 1.08)" x="0" y="0" font-family="'Liberation Serif', 'Times New Roman', serif" font-size="57" text-anchor="middle">1500</text>
<text transform="translate(1311.5 1086.8) scale(1 1.08)" x="0" y="0" font-family="'Liberation Serif', 'Times New Roman', serif" font-size="57" text-anchor="middle">1000</text>
<text transform="translate(1506.8 1086.8) scale(1 1.08)" x="0" y="0" font-family="'Liberation Serif', 'Times New Roman', serif" font-size="57" text-anchor="middle">500</text>
<text transform="translate(0 1226.5) scale(0.9 1)" x="595.7 664.4 704.4 742.1 777.0 817.8 860.3 925.8 964.3 999.2" y="0" font-family="'Liberation Serif', 'Times New Roman', serif" font-size="70" font-weight="bold">Wavenumber</text>
<text x="946" y="1226.5" font-family="'Liberation Serif', 'Times New Roman', serif" font-size="70">(</text>
<text x="971" y="1226.5" font-family="'Liberation Serif', 'Times New Roman', serif" font-size="70" font-weight="bold">cm</text>
<text x="1061" y="1196" font-family="'Liberation Serif', 'Times New Roman', serif" font-size="44" font-weight="bold">-1</text>
<text x="1100" y="1226.5" font-family="'Liberation Serif', 'Times New Roman', serif" font-size="70">)</text>
<text transform="translate(77.1 775.2) rotate(-90)" x="0" y="0" font-family="'Liberation Serif', 'Times New Roman', serif" font-size="64" font-weight="bold" textLength="497" lengthAdjust="spacingAndGlyphs">Transmitance (%)</text>
<text x="693" y="97" font-family="'Liberation Serif', 'Times New Roman', serif" font-size="52" textLength="196" lengthAdjust="spacingAndGlyphs">MCM-48</text>
<text x="694" y="257.9" font-family="'Liberation Serif', 'Times New Roman', serif" font-size="52" textLength="265" lengthAdjust="spacingAndGlyphs">Fe-MCM-48</text>
<text x="662" y="465.4" font-family="'Liberation Serif', 'Times New Roman', serif" font-size="52" textLength="391" lengthAdjust="spacingAndGlyphs">cellulate-MCM-48</text>
<text transform="translate(353.5 116) scale(1 1.03)" x="0" y="0" font-family="'Liberation Sans', Arial, sans-serif" font-size="54">3475 cm</text><text x="559.3" y="85.9" font-family="'Liberation Sans', Arial, sans-serif" font-size="32" letter-spacing="-2.9">-1</text>
<text transform="translate(1092.5 95) scale(1 1.03)" x="0" y="0" font-family="'Liberation Sans', Arial, sans-serif" font-size="54">1600 cm</text><text x="1298.6" y="65" font-family="'Liberation Sans', Arial, sans-serif" font-size="32" letter-spacing="-2.9">-1</text>
<text transform="translate(1317 95) scale(1 1.03)" x="0" y="0" font-family="'Liberation Sans', Arial, sans-serif" font-size="54">1080cm</text><text x="1507.6" y="63" font-family="'Liberation Sans', Arial, sans-serif" font-size="32" letter-spacing="-2.9">-1</text>
<text transform="translate(468.3 686.9) scale(1 1.03)" x="0" y="0" font-family="'Liberation Sans', Arial, sans-serif" font-size="54">3240 cm</text><text x="675.4" y="656" font-family="'Liberation Sans', Arial, sans-serif" font-size="32" letter-spacing="-2.9">-1</text>
<text transform="translate(404.7 924.9) scale(1 1.03)" x="0" y="0" font-family="'Liberation Sans', Arial, sans-serif" font-size="54">3411 cm</text><text x="611.4" y="895.5" font-family="'Liberation Sans', Arial, sans-serif" font-size="32" letter-spacing="-2.9">-1</text>
<line x1="380.0" y1="122.0" x2="348.7" y2="147.5" stroke="#000" stroke-width="3.6"/>
<polygon points="327.7,164.5 347.3,139.5 356.2,150.4" fill="#000"/>
<line x1="695.0" y1="70.5" x2="626.7" y2="110.8" stroke="#000" stroke-width="3.6"/>
<polygon points="606.0,123.0 626.3,102.3 633.9,115.2" fill="#000"/>
<line x1="690.4" y1="230.0" x2="601.1" y2="291.2" stroke="#000" stroke-width="3.6"/>
<polygon points="578.0,307.0 600.4,283.1 608.4,294.7" fill="#000"/>
<line x1="658.2" y1="444.0" x2="602.5" y2="487.7" stroke="#000" stroke-width="3.6"/>
<polygon points="583.6,502.5 600.7,478.9 610.6,491.5" fill="#000"/>
<line x1="1120.2" y1="106.0" x2="1103.6" y2="124.1" stroke="#000" stroke-width="3.6"/>
<polygon points="1085.3,144.0 1101.1,116.4 1111.4,125.9" fill="#000"/>
<line x1="1330.0" y1="106.5" x2="1310.0" y2="127.7" stroke="#000" stroke-width="3.6"/>
<polygon points="1291.5,147.3 1307.7,119.9 1317.9,129.6" fill="#000"/>
<line x1="462.0" y1="680.0" x2="454.1" y2="688.1" stroke="#000" stroke-width="3.6"/>
<polygon points="438.0,704.5 451.4,679.8 462.4,690.6" fill="#000"/>
<line x1="401.0" y1="918.0" x2="391.5" y2="927.3" stroke="#000" stroke-width="3.6"/>
<polygon points="375.0,943.3 388.6,918.6 400.1,930.4" fill="#000"/>
</svg>
</body></html>
